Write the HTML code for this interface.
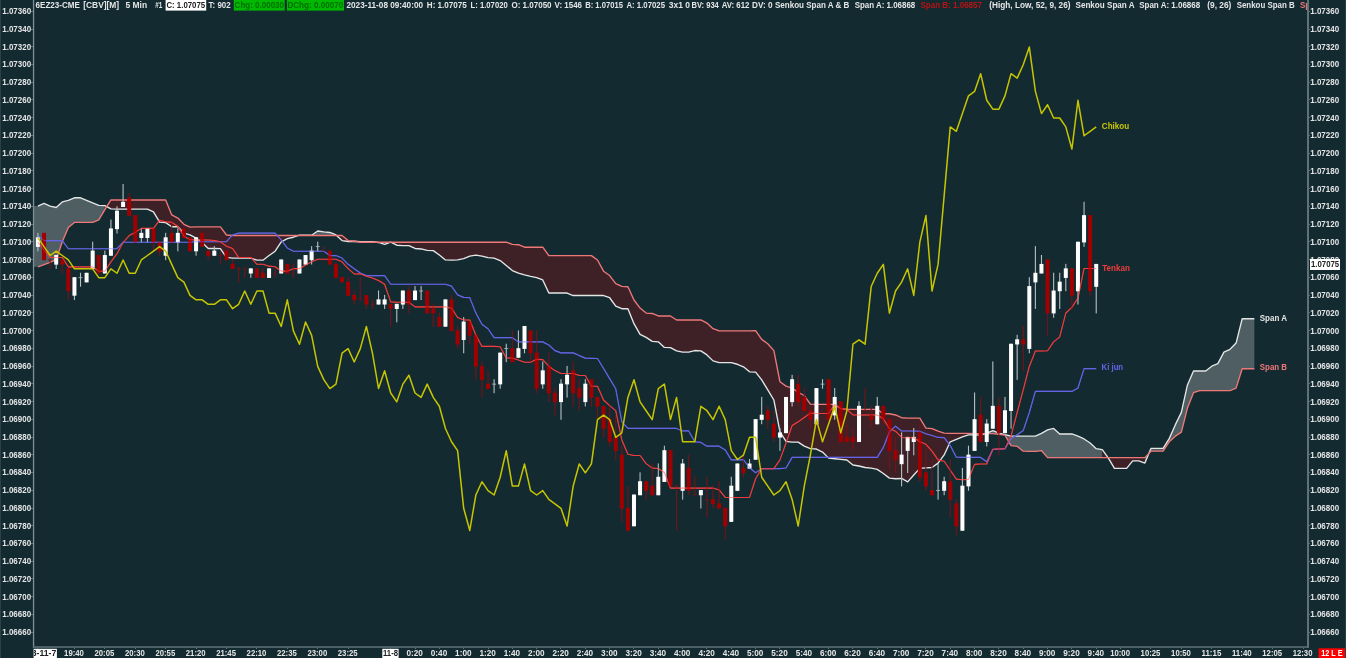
<!DOCTYPE html>
<html><head><meta charset="utf-8"><title>6EZ23-CME 5 Min</title>
<style>html,body{margin:0;padding:0;background:#142a31;overflow:hidden}svg{display:block}</style></head>
<body>
<svg width="1346" height="658" viewBox="0 0 1346 658" font-family='"Liberation Sans", "DejaVu Sans", sans-serif' font-size="8.5" font-weight="bold">
<rect width="1346" height="658" fill="#142a31"/>
<clipPath id="plot"><rect x="34" y="0" width="1273" height="646"/></clipPath>
<g clip-path="url(#plot)">
<path d="M33.50,206.02 L37.94,206.02 L44.03,203.40 L50.11,206.15 L56.19,207.52 L62.27,201.90 L68.35,200.28 L74.44,197.78 L80.52,197.78 L86.60,200.41 L92.68,202.90 L98.76,205.40 L104.85,205.65 L104.85,209.69 L98.76,219.93 L92.68,222.42 L86.60,222.42 L80.52,222.42 L74.44,222.42 L68.35,227.41 L62.27,241.77 L56.19,259.71 L50.11,262.46 L44.03,264.71 L37.94,266.83 L33.50,266.83 Z" fill="#4e5e63" fill-rule="nonzero"/>
<path d="M104.85,205.65 L110.93,208.94 L117.01,209.07 L123.09,209.07 L129.17,209.07 L135.26,209.07 L141.34,209.07 L147.42,209.07 L153.50,211.81 L159.58,222.17 L165.67,222.67 L171.75,226.79 L177.83,226.79 L183.91,233.03 L189.99,234.97 L196.08,238.09 L202.16,242.46 L208.24,248.45 L214.32,248.45 L220.40,248.70 L226.49,257.44 L232.57,258.06 L238.65,258.06 L244.73,258.06 L250.81,258.06 L256.90,260.18 L262.98,260.18 L269.06,255.56 L275.14,251.20 L281.22,241.83 L287.31,238.71 L293.39,237.22 L299.47,235.22 L299.47,235.47 L293.39,235.47 L287.31,235.47 L281.22,235.47 L275.14,235.47 L269.06,235.47 L262.98,235.47 L256.90,235.47 L250.81,235.47 L244.73,235.47 L238.65,235.47 L232.57,235.47 L226.49,234.97 L220.40,226.86 L214.32,226.86 L208.24,226.86 L202.16,226.86 L196.08,226.86 L189.99,227.16 L183.91,224.29 L177.83,218.05 L171.75,214.93 L165.67,199.96 L159.58,199.96 L153.50,199.96 L147.42,199.96 L141.34,199.96 L135.26,199.96 L129.17,199.96 L123.09,199.96 L117.01,199.96 L110.93,199.96 L104.85,209.69 Z" fill="#3e2126" fill-rule="nonzero"/>
<path d="M299.47,235.22 L305.55,235.22 L311.63,235.22 L317.72,230.98 L323.80,231.85 L329.88,232.47 L335.96,234.97 L335.96,235.47 L329.88,235.47 L323.80,235.47 L317.72,235.47 L311.63,235.47 L305.55,235.47 L299.47,235.47 Z" fill="#4e5e63" fill-rule="nonzero"/>
<path d="M335.96,234.97 L342.04,240.59 L348.13,241.46 L354.21,241.23 L354.21,241.23 L348.13,240.59 L342.04,235.47 L335.96,235.47 Z" fill="#3e2126" fill-rule="nonzero"/>
<path d="M354.21,241.23 L360.29,241.60 L366.37,241.60 L372.45,241.60 L378.54,242.47 L378.54,242.22 L372.45,242.22 L366.37,242.22 L360.29,242.22 L354.21,241.23 Z" fill="#4e5e63" fill-rule="nonzero"/>
<path d="M378.54,242.47 L384.62,244.35 L390.70,242.22 L396.78,245.22 L402.86,245.59 L408.95,245.59 L415.03,248.46 L421.11,248.96 L427.19,250.34 L433.27,250.59 L439.36,254.96 L445.44,259.95 L451.52,260.20 L457.60,259.95 L463.68,258.70 L469.77,256.20 L475.85,255.20 L481.93,256.20 L488.01,257.70 L494.09,258.08 L500.18,260.57 L506.26,265.56 L512.34,270.56 L518.42,273.05 L524.50,274.93 L530.59,276.42 L536.67,277.67 L542.75,279.92 L548.83,293.02 L554.91,293.02 L561.00,293.02 L567.08,293.02 L573.16,295.52 L579.24,295.52 L585.32,295.52 L591.41,295.52 L597.49,295.52 L603.57,295.52 L609.65,297.74 L615.73,306.23 L621.82,308.72 L627.90,308.72 L633.98,323.70 L640.06,334.31 L646.14,337.43 L652.23,341.42 L658.31,341.80 L664.39,347.41 L670.47,347.66 L676.55,350.91 L682.64,352.16 L688.72,352.16 L694.80,350.53 L700.88,350.91 L706.96,354.90 L713.05,360.89 L719.13,362.64 L725.21,362.64 L731.29,362.64 L737.37,364.26 L743.46,366.81 L749.54,371.80 L755.62,372.18 L761.70,379.92 L767.78,389.90 L773.87,399.99 L779.95,431.82 L786.03,441.43 L792.11,442.18 L798.19,442.18 L804.28,446.17 L810.36,448.67 L816.44,449.04 L822.52,452.04 L828.60,458.12 L834.69,458.74 L840.77,459.37 L846.85,459.99 L852.93,464.99 L859.01,465.98 L865.10,467.48 L871.18,468.11 L877.26,469.35 L883.34,473.47 L889.42,478.09 L895.51,478.71 L901.59,478.46 L907.67,481.83 L913.75,474.97 L919.83,468.35 L925.92,467.86 L932.00,467.48 L938.08,463.11 L944.16,454.91 L950.24,441.80 L956.33,439.31 L962.41,436.81 L968.49,434.94 L974.57,434.94 L980.65,435.19 L980.65,433.69 L974.57,433.69 L968.49,433.44 L962.41,433.44 L956.33,433.44 L950.24,433.44 L944.16,433.07 L938.08,431.20 L932.00,428.70 L925.92,428.08 L919.83,418.09 L913.75,418.09 L907.67,418.09 L901.59,417.72 L895.51,414.97 L889.42,413.72 L883.34,413.72 L877.26,409.35 L871.18,409.35 L865.10,409.35 L859.01,409.35 L852.93,409.35 L846.85,409.35 L840.77,408.73 L834.69,404.36 L828.60,404.36 L822.52,404.36 L816.44,404.36 L810.36,404.11 L804.28,395.52 L798.19,392.40 L792.11,388.03 L786.03,386.16 L779.95,381.79 L773.87,350.59 L767.78,343.72 L761.70,339.35 L755.62,330.62 L749.54,330.94 L743.46,330.94 L737.37,330.94 L731.29,330.94 L725.21,330.94 L719.13,330.94 L713.05,328.69 L706.96,323.08 L700.88,319.96 L694.80,319.96 L688.72,319.96 L682.64,319.96 L676.55,319.96 L670.47,315.96 L664.39,315.96 L658.31,315.96 L652.23,313.46 L646.14,313.09 L640.06,308.10 L633.98,299.99 L627.90,286.78 L621.82,286.41 L615.73,283.66 L609.65,275.55 L603.57,271.18 L597.49,259.95 L591.41,255.58 L585.32,255.58 L579.24,255.58 L573.16,255.58 L567.08,255.58 L561.00,255.58 L554.91,255.58 L548.83,255.58 L542.75,247.22 L536.67,247.22 L530.59,247.22 L524.50,247.22 L518.42,244.72 L512.34,244.35 L506.26,242.22 L500.18,242.22 L494.09,242.22 L488.01,242.22 L481.93,242.22 L475.85,242.22 L469.77,242.22 L463.68,242.22 L457.60,242.22 L451.52,242.22 L445.44,242.22 L439.36,242.22 L433.27,242.22 L427.19,242.22 L421.11,242.22 L415.03,242.22 L408.95,242.22 L402.86,242.22 L396.78,242.22 L390.70,242.22 L384.62,242.22 L378.54,242.22 Z" fill="#3e2126" fill-rule="nonzero"/>
<path d="M980.65,435.19 L986.74,433.07 L992.82,430.57 L998.90,433.07 L1004.98,434.69 L1011.06,436.19 L1017.15,436.19 L1023.23,436.19 L1029.31,436.19 L1035.39,436.19 L1041.47,433.45 L1047.56,429.96 L1053.64,428.46 L1059.72,433.95 L1065.80,433.95 L1071.88,433.95 L1077.97,436.20 L1084.05,438.94 L1090.13,443.06 L1096.21,448.68 L1102.29,449.68 L1102.29,457.66 L1096.21,457.66 L1090.13,457.66 L1084.05,457.66 L1077.97,457.66 L1071.88,457.66 L1065.80,457.66 L1059.72,457.66 L1053.64,457.66 L1047.56,457.66 L1041.47,450.55 L1035.39,451.42 L1029.31,451.42 L1023.23,451.17 L1017.15,446.30 L1011.06,445.55 L1004.98,435.06 L998.90,434.44 L992.82,433.69 L986.74,433.69 L980.65,433.69 Z" fill="#4e5e63" fill-rule="nonzero"/>
<path d="M1102.29,449.68 L1108.38,458.04 L1114.46,468.40 L1120.54,468.40 L1126.62,468.40 L1132.70,460.91 L1138.79,460.91 L1144.87,463.03 L1144.87,457.66 L1138.79,457.66 L1132.70,457.66 L1126.62,457.66 L1120.54,457.66 L1114.46,457.66 L1108.38,457.66 L1102.29,457.66 Z" fill="#3e2126" fill-rule="nonzero"/>
<path d="M1144.87,463.03 L1150.95,448.43 L1157.03,448.43 L1163.11,448.43 L1169.20,438.63 L1175.28,424.90 L1181.36,412.42 L1187.44,384.96 L1193.52,370.98 L1199.61,370.98 L1205.69,370.98 L1211.77,366.16 L1217.85,363.66 L1223.93,352.18 L1230.02,349.31 L1236.10,343.07 L1242.18,318.73 L1248.26,318.73 L1254.34,318.73 L1254.34,368.74 L1248.26,368.74 L1242.18,368.74 L1236.10,388.08 L1230.02,390.58 L1223.93,390.58 L1217.85,390.58 L1211.77,390.58 L1205.69,390.58 L1199.61,390.58 L1193.52,392.70 L1187.44,408.05 L1181.36,432.14 L1175.28,436.14 L1169.20,441.81 L1163.11,451.17 L1157.03,451.17 L1150.95,451.17 L1144.87,457.66 Z" fill="#4e5e63" fill-rule="nonzero"/>
<path d="M37.94,206.02 L44.03,203.40 L50.11,206.15 L56.19,207.52 L62.27,201.90 L68.35,200.28 L74.44,197.78 L80.52,197.78 L86.60,200.41 L92.68,202.90 L98.76,205.40 L104.85,205.65 L110.93,208.94 L117.01,209.07 L123.09,209.07 L129.17,209.07 L135.26,209.07 L141.34,209.07 L147.42,209.07 L153.50,211.81 L159.58,222.17 L165.67,222.67 L171.75,226.79 L177.83,226.79 L183.91,233.03 L189.99,234.97 L196.08,238.09 L202.16,242.46 L208.24,248.45 L214.32,248.45 L220.40,248.70 L226.49,257.44 L232.57,258.06 L238.65,258.06 L244.73,258.06 L250.81,258.06 L256.90,260.18 L262.98,260.18 L269.06,255.56 L275.14,251.20 L281.22,241.83 L287.31,238.71 L293.39,237.22 L299.47,235.22 L305.55,235.22 L311.63,235.22 L317.72,230.98 L323.80,231.85 L329.88,232.47 L335.96,234.97 L342.04,240.59 L348.13,241.46 L354.21,241.23 L360.29,241.60 L366.37,241.60 L372.45,241.60 L378.54,242.47 L384.62,244.35 L390.70,242.22 L396.78,245.22 L402.86,245.59 L408.95,245.59 L415.03,248.46 L421.11,248.96 L427.19,250.34 L433.27,250.59 L439.36,254.96 L445.44,259.95 L451.52,260.20 L457.60,259.95 L463.68,258.70 L469.77,256.20 L475.85,255.20 L481.93,256.20 L488.01,257.70 L494.09,258.08 L500.18,260.57 L506.26,265.56 L512.34,270.56 L518.42,273.05 L524.50,274.93 L530.59,276.42 L536.67,277.67 L542.75,279.92 L548.83,293.02 L554.91,293.02 L561.00,293.02 L567.08,293.02 L573.16,295.52 L579.24,295.52 L585.32,295.52 L591.41,295.52 L597.49,295.52 L603.57,295.52 L609.65,297.74 L615.73,306.23 L621.82,308.72 L627.90,308.72 L633.98,323.70 L640.06,334.31 L646.14,337.43 L652.23,341.42 L658.31,341.80 L664.39,347.41 L670.47,347.66 L676.55,350.91 L682.64,352.16 L688.72,352.16 L694.80,350.53 L700.88,350.91 L706.96,354.90 L713.05,360.89 L719.13,362.64 L725.21,362.64 L731.29,362.64 L737.37,364.26 L743.46,366.81 L749.54,371.80 L755.62,372.18 L761.70,379.92 L767.78,389.90 L773.87,399.99 L779.95,431.82 L786.03,441.43 L792.11,442.18 L798.19,442.18 L804.28,446.17 L810.36,448.67 L816.44,449.04 L822.52,452.04 L828.60,458.12 L834.69,458.74 L840.77,459.37 L846.85,459.99 L852.93,464.99 L859.01,465.98 L865.10,467.48 L871.18,468.11 L877.26,469.35 L883.34,473.47 L889.42,478.09 L895.51,478.71 L901.59,478.46 L907.67,481.83 L913.75,474.97 L919.83,468.35 L925.92,467.86 L932.00,467.48 L938.08,463.11 L944.16,454.91 L950.24,441.80 L956.33,439.31 L962.41,436.81 L968.49,434.94 L974.57,434.94 L980.65,435.19 L986.74,433.07 L992.82,430.57 L998.90,433.07 L1004.98,434.69 L1011.06,436.19 L1017.15,436.19 L1023.23,436.19 L1029.31,436.19 L1035.39,436.19 L1041.47,433.45 L1047.56,429.96 L1053.64,428.46 L1059.72,433.95 L1065.80,433.95 L1071.88,433.95 L1077.97,436.20 L1084.05,438.94 L1090.13,443.06 L1096.21,448.68 L1102.29,449.68 L1108.38,458.04 L1114.46,468.40 L1120.54,468.40 L1126.62,468.40 L1132.70,460.91 L1138.79,460.91 L1144.87,463.03 L1150.95,448.43 L1157.03,448.43 L1163.11,448.43 L1169.20,438.63 L1175.28,424.90 L1181.36,412.42 L1187.44,384.96 L1193.52,370.98 L1199.61,370.98 L1205.69,370.98 L1211.77,366.16 L1217.85,363.66 L1223.93,352.18 L1230.02,349.31 L1236.10,343.07 L1242.18,318.73 L1248.26,318.73 L1254.34,318.73" fill="none" stroke="#e4e6e6" stroke-width="1.35" stroke-linejoin="round"/>
<path d="M37.94,266.83 L44.03,264.71 L50.11,262.46 L56.19,259.71 L62.27,241.77 L68.35,227.41 L74.44,222.42 L80.52,222.42 L86.60,222.42 L92.68,222.42 L98.76,219.93 L104.85,209.69 L110.93,199.96 L117.01,199.96 L123.09,199.96 L129.17,199.96 L135.26,199.96 L141.34,199.96 L147.42,199.96 L153.50,199.96 L159.58,199.96 L165.67,199.96 L171.75,214.93 L177.83,218.05 L183.91,224.29 L189.99,227.16 L196.08,226.86 L202.16,226.86 L208.24,226.86 L214.32,226.86 L220.40,226.86 L226.49,234.97 L232.57,235.47 L238.65,235.47 L244.73,235.47 L250.81,235.47 L256.90,235.47 L262.98,235.47 L269.06,235.47 L275.14,235.47 L281.22,235.47 L287.31,235.47 L293.39,235.47 L299.47,235.47 L305.55,235.47 L311.63,235.47 L317.72,235.47 L323.80,235.47 L329.88,235.47 L335.96,235.47 L342.04,235.47 L348.13,240.59 L354.21,241.23 L360.29,242.22 L366.37,242.22 L372.45,242.22 L378.54,242.22 L384.62,242.22 L390.70,242.22 L396.78,242.22 L402.86,242.22 L408.95,242.22 L415.03,242.22 L421.11,242.22 L427.19,242.22 L433.27,242.22 L439.36,242.22 L445.44,242.22 L451.52,242.22 L457.60,242.22 L463.68,242.22 L469.77,242.22 L475.85,242.22 L481.93,242.22 L488.01,242.22 L494.09,242.22 L500.18,242.22 L506.26,242.22 L512.34,244.35 L518.42,244.72 L524.50,247.22 L530.59,247.22 L536.67,247.22 L542.75,247.22 L548.83,255.58 L554.91,255.58 L561.00,255.58 L567.08,255.58 L573.16,255.58 L579.24,255.58 L585.32,255.58 L591.41,255.58 L597.49,259.95 L603.57,271.18 L609.65,275.55 L615.73,283.66 L621.82,286.41 L627.90,286.78 L633.98,299.99 L640.06,308.10 L646.14,313.09 L652.23,313.46 L658.31,315.96 L664.39,315.96 L670.47,315.96 L676.55,319.96 L682.64,319.96 L688.72,319.96 L694.80,319.96 L700.88,319.96 L706.96,323.08 L713.05,328.69 L719.13,330.94 L725.21,330.94 L731.29,330.94 L737.37,330.94 L743.46,330.94 L749.54,330.94 L755.62,330.62 L761.70,339.35 L767.78,343.72 L773.87,350.59 L779.95,381.79 L786.03,386.16 L792.11,388.03 L798.19,392.40 L804.28,395.52 L810.36,404.11 L816.44,404.36 L822.52,404.36 L828.60,404.36 L834.69,404.36 L840.77,408.73 L846.85,409.35 L852.93,409.35 L859.01,409.35 L865.10,409.35 L871.18,409.35 L877.26,409.35 L883.34,413.72 L889.42,413.72 L895.51,414.97 L901.59,417.72 L907.67,418.09 L913.75,418.09 L919.83,418.09 L925.92,428.08 L932.00,428.70 L938.08,431.20 L944.16,433.07 L950.24,433.44 L956.33,433.44 L962.41,433.44 L968.49,433.44 L974.57,433.69 L980.65,433.69 L986.74,433.69 L992.82,433.69 L998.90,434.44 L1004.98,435.06 L1011.06,445.55 L1017.15,446.30 L1023.23,451.17 L1029.31,451.42 L1035.39,451.42 L1041.47,450.55 L1047.56,457.66 L1053.64,457.66 L1059.72,457.66 L1065.80,457.66 L1071.88,457.66 L1077.97,457.66 L1084.05,457.66 L1090.13,457.66 L1096.21,457.66 L1102.29,457.66 L1108.38,457.66 L1114.46,457.66 L1120.54,457.66 L1126.62,457.66 L1132.70,457.66 L1138.79,457.66 L1144.87,457.66 L1150.95,451.17 L1157.03,451.17 L1163.11,451.17 L1169.20,441.81 L1175.28,436.14 L1181.36,432.14 L1187.44,408.05 L1193.52,392.70 L1199.61,390.58 L1205.69,390.58 L1211.77,390.58 L1217.85,390.58 L1223.93,390.58 L1230.02,390.58 L1236.10,388.08 L1242.18,368.74 L1248.26,368.74 L1254.34,368.74" fill="none" stroke="#ee7878" stroke-width="1.35" stroke-linejoin="round"/>
<path d="M37.94,235.62 L44.03,240.62 L50.11,240.62 L56.19,240.62 L62.27,240.62 L68.35,248.73 L74.44,248.73 L80.52,248.73 L86.60,248.73 L92.68,248.73 L98.76,248.73 L104.85,248.73 L110.93,248.73 L117.01,248.73 L123.09,242.24 L129.17,242.24 L135.26,242.24 L141.34,242.24 L147.42,242.24 L153.50,242.24 L159.58,242.24 L165.67,242.24 L171.75,242.24 L177.83,242.24 L183.91,242.24 L189.99,242.24 L196.08,241.71 L202.16,241.71 L208.24,241.71 L214.32,241.71 L220.40,241.71 L226.49,241.71 L232.57,234.97 L238.65,233.10 L244.73,233.10 L250.81,233.10 L256.90,233.10 L262.98,233.10 L269.06,233.10 L275.14,233.10 L281.22,239.96 L287.31,248.08 L293.39,251.20 L299.47,251.20 L305.55,251.20 L311.63,251.20 L317.72,251.20 L323.80,251.20 L329.88,255.56 L335.96,255.56 L342.04,258.06 L348.13,264.30 L354.21,268.68 L360.29,273.05 L366.37,275.55 L372.45,275.55 L378.54,275.55 L384.62,275.55 L390.70,284.29 L396.78,284.29 L402.86,284.29 L408.95,284.29 L415.03,284.29 L421.11,284.29 L427.19,284.29 L433.27,284.29 L439.36,284.29 L445.44,284.29 L451.52,286.16 L457.60,294.90 L463.68,297.39 L469.77,297.64 L475.85,313.10 L481.93,324.33 L488.01,328.70 L494.09,337.69 L500.18,337.69 L506.26,337.69 L512.34,337.69 L518.42,341.87 L524.50,341.87 L530.59,341.87 L536.67,341.87 L542.75,341.87 L548.83,344.99 L554.91,350.61 L561.00,352.86 L567.08,352.86 L573.16,352.86 L579.24,355.60 L585.32,358.10 L591.41,358.35 L597.49,358.47 L603.57,368.56 L609.65,378.65 L615.73,388.74 L621.82,421.82 L627.90,428.43 L633.98,428.43 L640.06,428.43 L646.14,428.43 L652.23,428.43 L658.31,428.43 L664.39,428.43 L670.47,428.43 L676.55,428.43 L682.64,430.93 L688.72,430.93 L694.80,441.79 L700.88,442.41 L706.96,446.16 L713.05,446.16 L719.13,446.16 L725.21,449.90 L731.29,459.89 L737.37,459.89 L743.46,459.65 L749.54,467.77 L755.62,472.76 L761.70,468.64 L767.78,468.64 L773.87,468.64 L779.95,468.64 L786.03,468.02 L792.11,457.41 L798.19,457.41 L804.28,457.41 L810.36,457.41 L816.44,457.41 L822.52,457.41 L828.60,457.41 L834.69,457.41 L840.77,457.41 L846.85,457.41 L852.93,457.41 L859.01,457.41 L865.10,457.41 L871.18,457.41 L877.26,457.41 L883.34,447.42 L889.42,431.82 L895.51,426.20 L901.59,430.95 L907.67,430.95 L913.75,430.95 L919.83,431.20 L925.92,433.69 L932.00,435.56 L938.08,437.44 L944.16,437.69 L950.24,445.55 L956.33,457.16 L962.41,457.41 L968.49,457.41 L974.57,457.41 L980.65,457.41 L986.74,461.77 L992.82,449.54 L998.90,449.17 L1004.98,448.79 L1011.06,438.68 L1017.15,434.69 L1023.23,430.57 L1029.31,412.49 L1035.39,391.39 L1041.47,391.39 L1047.56,391.39 L1053.64,391.39 L1059.72,391.39 L1065.80,391.39 L1071.88,391.39 L1077.97,388.02 L1084.05,368.68 L1090.13,368.68 L1096.21,368.68" fill="none" stroke="#6464e6" stroke-width="1.15" stroke-linejoin="round"/>
<path d="M37.94,242.24 L44.03,249.98 L50.11,257.47 L56.19,257.47 L62.27,257.47 L68.35,266.83 L74.44,266.83 L80.52,266.83 L86.60,266.83 L92.68,266.83 L98.76,271.20 L104.85,271.20 L110.93,261.83 L117.01,253.72 L123.09,242.49 L129.17,235.53 L135.26,232.41 L141.34,228.41 L147.42,228.41 L153.50,228.41 L159.58,220.17 L165.67,221.80 L171.75,222.42 L177.83,226.17 L183.91,236.15 L189.99,239.65 L196.08,239.96 L202.16,239.96 L208.24,239.96 L214.32,240.59 L220.40,241.83 L226.49,246.20 L232.57,248.45 L238.65,257.44 L244.73,257.44 L250.81,257.44 L256.90,264.30 L262.98,264.30 L269.06,266.17 L275.14,266.80 L281.22,271.17 L287.31,271.17 L293.39,268.67 L299.47,268.67 L305.55,264.93 L311.63,261.80 L317.72,259.31 L323.80,259.31 L329.88,259.31 L335.96,259.31 L342.04,261.80 L348.13,268.67 L354.21,273.93 L360.29,273.68 L366.37,276.17 L372.45,278.05 L378.54,280.54 L384.62,284.29 L390.70,301.86 L396.78,302.24 L402.86,302.24 L408.95,302.24 L415.03,306.86 L421.11,306.86 L427.19,306.86 L433.27,306.86 L439.36,306.86 L445.44,306.86 L451.52,308.11 L457.60,317.47 L463.68,319.96 L469.77,319.96 L475.85,334.94 L481.93,346.42 L488.01,346.42 L494.09,346.42 L500.18,346.80 L506.26,358.03 L512.34,358.03 L518.42,359.97 L524.50,362.22 L530.59,362.22 L536.67,359.35 L542.75,359.60 L548.83,366.21 L554.91,370.58 L561.00,373.45 L567.08,373.45 L573.16,373.45 L579.24,375.57 L585.32,375.57 L591.41,386.25 L597.49,386.25 L603.57,399.98 L609.65,405.59 L615.73,410.59 L621.82,439.92 L627.90,454.27 L633.98,455.52 L640.06,455.52 L646.14,463.63 L652.23,468.11 L658.31,468.48 L664.39,472.47 L670.47,488.08 L676.55,488.08 L682.64,488.08 L688.72,488.08 L694.80,488.08 L700.88,488.08 L706.96,488.08 L713.05,488.08 L719.13,489.95 L725.21,497.44 L731.29,497.44 L737.37,497.44 L743.46,497.44 L749.54,497.44 L755.62,478.71 L761.70,468.64 L767.78,468.64 L773.87,468.64 L779.95,459.90 L786.03,443.05 L792.11,425.58 L798.19,421.83 L804.28,417.47 L810.36,413.10 L816.44,413.47 L822.52,413.47 L828.60,413.47 L834.69,404.36 L840.77,408.73 L846.85,409.35 L852.93,414.97 L859.01,414.97 L865.10,414.97 L871.18,414.97 L877.26,414.97 L883.34,418.71 L889.42,428.70 L895.51,431.20 L901.59,437.44 L907.67,437.69 L913.75,437.69 L919.83,441.80 L925.92,444.30 L932.00,451.17 L938.08,459.90 L944.16,461.24 L950.24,470.23 L956.33,479.09 L962.41,479.71 L968.49,479.34 L974.57,464.36 L980.65,463.99 L986.74,463.99 L992.82,449.29 L998.90,448.92 L1004.98,448.67 L1011.06,436.19 L1017.15,412.49 L1023.23,389.90 L1029.31,366.43 L1035.39,350.95 L1041.47,350.95 L1047.56,350.70 L1053.64,341.84 L1059.72,336.85 L1065.80,313.02 L1071.88,307.41 L1077.97,298.05 L1084.05,268.46 L1090.13,268.46 L1096.21,268.46" fill="none" stroke="#f03c3c" stroke-width="1.1" stroke-linejoin="round"/>
<g>
<rect x="37.39" y="232.83" width="1.1" height="18.44" fill="#b4c0c4"/>
<rect x="35.94" y="237.31" width="4" height="9.57" fill="#ffffff"/>
<rect x="43.48" y="232.83" width="1.1" height="27.31" fill="#741418"/>
<rect x="42.03" y="232.88" width="4" height="27.31" fill="#a20000"/>
<rect x="49.56" y="258.55" width="1.1" height="10.46" fill="#741418"/>
<rect x="48.11" y="259.54" width="4" height="0.8" fill="#741418"/>
<rect x="55.64" y="255.00" width="1.1" height="14.00" fill="#b4c0c4"/>
<rect x="54.19" y="255.06" width="4" height="9.57" fill="#ffffff"/>
<rect x="61.72" y="259.44" width="1.1" height="14.00" fill="#741418"/>
<rect x="60.27" y="259.49" width="4" height="5.13" fill="#a20000"/>
<rect x="67.80" y="268.31" width="1.1" height="31.74" fill="#741418"/>
<rect x="66.35" y="268.36" width="4" height="22.88" fill="#a20000"/>
<rect x="73.89" y="277.18" width="1.1" height="22.87" fill="#b4c0c4"/>
<rect x="72.44" y="277.23" width="4" height="18.44" fill="#ffffff"/>
<rect x="79.97" y="272.75" width="1.1" height="14.00" fill="#b4c0c4"/>
<rect x="78.52" y="277.28" width="4" height="0.8" fill="#b4c0c4"/>
<rect x="86.05" y="272.75" width="1.1" height="9.57" fill="#b4c0c4"/>
<rect x="84.60" y="272.80" width="4" height="9.57" fill="#ffffff"/>
<rect x="92.13" y="241.70" width="1.1" height="27.31" fill="#b4c0c4"/>
<rect x="90.68" y="250.62" width="4" height="18.44" fill="#ffffff"/>
<rect x="98.21" y="255.00" width="1.1" height="18.44" fill="#741418"/>
<rect x="96.76" y="255.06" width="4" height="18.44" fill="#a20000"/>
<rect x="104.30" y="250.57" width="1.1" height="22.88" fill="#b4c0c4"/>
<rect x="102.85" y="255.06" width="4" height="18.44" fill="#ffffff"/>
<rect x="110.38" y="219.52" width="1.1" height="36.18" fill="#b4c0c4"/>
<rect x="108.93" y="228.44" width="4" height="27.31" fill="#ffffff"/>
<rect x="116.46" y="206.22" width="1.1" height="27.31" fill="#b4c0c4"/>
<rect x="115.01" y="210.71" width="4" height="18.44" fill="#ffffff"/>
<rect x="122.54" y="184.04" width="1.1" height="22.88" fill="#b4c0c4"/>
<rect x="121.09" y="201.84" width="4" height="5.13" fill="#ffffff"/>
<rect x="128.62" y="192.91" width="1.1" height="22.87" fill="#741418"/>
<rect x="127.17" y="197.40" width="4" height="18.44" fill="#a20000"/>
<rect x="134.71" y="215.09" width="1.1" height="27.31" fill="#741418"/>
<rect x="133.26" y="215.14" width="4" height="27.31" fill="#a20000"/>
<rect x="140.79" y="228.39" width="1.1" height="14.00" fill="#b4c0c4"/>
<rect x="139.34" y="232.88" width="4" height="5.13" fill="#ffffff"/>
<rect x="146.87" y="228.39" width="1.1" height="14.00" fill="#b4c0c4"/>
<rect x="145.42" y="228.44" width="4" height="9.57" fill="#ffffff"/>
<rect x="152.95" y="228.39" width="1.1" height="22.88" fill="#741418"/>
<rect x="151.50" y="228.44" width="4" height="14.00" fill="#a20000"/>
<rect x="159.03" y="241.70" width="1.1" height="14.00" fill="#741418"/>
<rect x="157.58" y="241.75" width="4" height="9.57" fill="#a20000"/>
<rect x="165.12" y="232.83" width="1.1" height="27.31" fill="#b4c0c4"/>
<rect x="163.67" y="237.31" width="4" height="18.44" fill="#ffffff"/>
<rect x="171.20" y="219.52" width="1.1" height="22.88" fill="#741418"/>
<rect x="169.75" y="232.88" width="4" height="9.57" fill="#a20000"/>
<rect x="177.28" y="228.39" width="1.1" height="22.88" fill="#b4c0c4"/>
<rect x="175.83" y="232.88" width="4" height="9.57" fill="#ffffff"/>
<rect x="183.36" y="228.39" width="1.1" height="9.57" fill="#741418"/>
<rect x="181.91" y="228.44" width="4" height="9.57" fill="#a20000"/>
<rect x="189.44" y="237.26" width="1.1" height="14.00" fill="#741418"/>
<rect x="187.99" y="237.31" width="4" height="14.00" fill="#a20000"/>
<rect x="195.53" y="237.26" width="1.1" height="18.44" fill="#b4c0c4"/>
<rect x="194.08" y="237.31" width="4" height="14.00" fill="#ffffff"/>
<rect x="201.61" y="232.83" width="1.1" height="14.00" fill="#741418"/>
<rect x="200.16" y="232.88" width="4" height="14.00" fill="#a20000"/>
<rect x="207.69" y="250.57" width="1.1" height="9.57" fill="#741418"/>
<rect x="206.24" y="250.62" width="4" height="5.13" fill="#a20000"/>
<rect x="213.77" y="246.13" width="1.1" height="9.57" fill="#b4c0c4"/>
<rect x="212.32" y="250.62" width="4" height="5.13" fill="#ffffff"/>
<rect x="219.85" y="250.57" width="1.1" height="14.00" fill="#741418"/>
<rect x="218.40" y="255.10" width="4" height="0.8" fill="#741418"/>
<rect x="225.94" y="250.57" width="1.1" height="9.57" fill="#741418"/>
<rect x="224.49" y="250.62" width="4" height="9.57" fill="#a20000"/>
<rect x="232.02" y="259.44" width="1.1" height="9.57" fill="#741418"/>
<rect x="230.57" y="263.93" width="4" height="5.13" fill="#a20000"/>
<rect x="238.10" y="267.42" width="1.1" height="14.89" fill="#741418"/>
<rect x="236.65" y="268.41" width="4" height="0.8" fill="#741418"/>
<rect x="244.18" y="267.42" width="1.1" height="10.46" fill="#741418"/>
<rect x="242.73" y="268.41" width="4" height="0.8" fill="#741418"/>
<rect x="250.26" y="268.31" width="1.1" height="9.57" fill="#b4c0c4"/>
<rect x="248.81" y="268.36" width="4" height="5.13" fill="#ffffff"/>
<rect x="256.35" y="268.31" width="1.1" height="9.57" fill="#741418"/>
<rect x="254.90" y="268.36" width="4" height="9.57" fill="#a20000"/>
<rect x="262.43" y="268.31" width="1.1" height="9.57" fill="#741418"/>
<rect x="260.98" y="272.80" width="4" height="5.13" fill="#a20000"/>
<rect x="268.51" y="268.31" width="1.1" height="9.57" fill="#b4c0c4"/>
<rect x="267.06" y="268.36" width="4" height="9.57" fill="#ffffff"/>
<rect x="274.59" y="268.31" width="1.1" height="9.57" fill="#741418"/>
<rect x="273.14" y="272.85" width="4" height="0.8" fill="#741418"/>
<rect x="280.67" y="259.44" width="1.1" height="14.00" fill="#b4c0c4"/>
<rect x="279.22" y="259.49" width="4" height="14.00" fill="#ffffff"/>
<rect x="286.76" y="263.88" width="1.1" height="9.57" fill="#741418"/>
<rect x="285.31" y="263.93" width="4" height="9.57" fill="#a20000"/>
<rect x="292.84" y="263.88" width="1.1" height="14.00" fill="#741418"/>
<rect x="291.39" y="272.85" width="4" height="0.8" fill="#741418"/>
<rect x="298.92" y="259.44" width="1.1" height="14.00" fill="#b4c0c4"/>
<rect x="297.47" y="259.49" width="4" height="14.00" fill="#ffffff"/>
<rect x="305.00" y="255.00" width="1.1" height="9.57" fill="#b4c0c4"/>
<rect x="303.55" y="255.06" width="4" height="9.57" fill="#ffffff"/>
<rect x="311.08" y="246.13" width="1.1" height="18.44" fill="#b4c0c4"/>
<rect x="309.63" y="250.62" width="4" height="9.57" fill="#ffffff"/>
<rect x="317.17" y="241.70" width="1.1" height="9.57" fill="#b4c0c4"/>
<rect x="315.72" y="246.23" width="4" height="0.8" fill="#b4c0c4"/>
<rect x="323.25" y="246.13" width="1.1" height="5.13" fill="#741418"/>
<rect x="321.80" y="250.67" width="4" height="0.8" fill="#741418"/>
<rect x="329.33" y="250.57" width="1.1" height="14.00" fill="#741418"/>
<rect x="327.88" y="250.62" width="4" height="14.00" fill="#a20000"/>
<rect x="335.41" y="261.66" width="1.1" height="16.22" fill="#741418"/>
<rect x="333.96" y="263.93" width="4" height="14.00" fill="#a20000"/>
<rect x="341.49" y="277.18" width="1.1" height="5.13" fill="#741418"/>
<rect x="340.04" y="277.23" width="4" height="5.13" fill="#a20000"/>
<rect x="347.58" y="277.18" width="1.1" height="18.44" fill="#741418"/>
<rect x="346.13" y="281.67" width="4" height="14.00" fill="#a20000"/>
<rect x="353.66" y="290.49" width="1.1" height="14.00" fill="#741418"/>
<rect x="352.21" y="294.97" width="4" height="5.13" fill="#a20000"/>
<rect x="359.74" y="277.18" width="1.1" height="22.87" fill="#741418"/>
<rect x="358.29" y="299.45" width="4" height="0.8" fill="#741418"/>
<rect x="365.82" y="294.92" width="1.1" height="14.00" fill="#741418"/>
<rect x="364.37" y="294.97" width="4" height="9.57" fill="#a20000"/>
<rect x="371.90" y="299.35" width="1.1" height="9.57" fill="#741418"/>
<rect x="370.45" y="303.89" width="4" height="0.8" fill="#741418"/>
<rect x="377.99" y="290.49" width="1.1" height="14.00" fill="#b4c0c4"/>
<rect x="376.54" y="299.40" width="4" height="5.13" fill="#ffffff"/>
<rect x="384.07" y="294.92" width="1.1" height="14.00" fill="#b4c0c4"/>
<rect x="382.62" y="299.40" width="4" height="5.13" fill="#ffffff"/>
<rect x="390.15" y="303.79" width="1.1" height="22.88" fill="#741418"/>
<rect x="388.70" y="303.84" width="4" height="5.13" fill="#a20000"/>
<rect x="396.23" y="303.79" width="1.1" height="18.44" fill="#b4c0c4"/>
<rect x="394.78" y="303.84" width="4" height="5.13" fill="#ffffff"/>
<rect x="402.31" y="290.49" width="1.1" height="18.44" fill="#b4c0c4"/>
<rect x="400.86" y="290.54" width="4" height="14.00" fill="#ffffff"/>
<rect x="408.40" y="286.05" width="1.1" height="27.31" fill="#741418"/>
<rect x="406.95" y="290.54" width="4" height="14.00" fill="#a20000"/>
<rect x="414.48" y="286.05" width="1.1" height="14.00" fill="#b4c0c4"/>
<rect x="413.03" y="290.54" width="4" height="9.57" fill="#ffffff"/>
<rect x="420.56" y="286.05" width="1.1" height="14.00" fill="#b4c0c4"/>
<rect x="419.11" y="290.59" width="4" height="0.8" fill="#b4c0c4"/>
<rect x="426.64" y="290.49" width="1.1" height="22.87" fill="#741418"/>
<rect x="425.19" y="290.54" width="4" height="22.87" fill="#a20000"/>
<rect x="432.72" y="303.79" width="1.1" height="22.88" fill="#741418"/>
<rect x="431.27" y="308.27" width="4" height="5.13" fill="#a20000"/>
<rect x="438.81" y="312.66" width="1.1" height="14.00" fill="#741418"/>
<rect x="437.36" y="317.14" width="4" height="9.57" fill="#a20000"/>
<rect x="444.89" y="299.35" width="1.1" height="27.31" fill="#b4c0c4"/>
<rect x="443.44" y="299.40" width="4" height="27.31" fill="#ffffff"/>
<rect x="450.97" y="294.92" width="1.1" height="36.18" fill="#741418"/>
<rect x="449.52" y="299.40" width="4" height="31.75" fill="#a20000"/>
<rect x="457.05" y="325.96" width="1.1" height="22.88" fill="#741418"/>
<rect x="455.60" y="330.45" width="4" height="14.00" fill="#a20000"/>
<rect x="463.13" y="317.09" width="1.1" height="36.18" fill="#b4c0c4"/>
<rect x="461.68" y="321.58" width="4" height="18.44" fill="#ffffff"/>
<rect x="469.22" y="321.53" width="1.1" height="22.88" fill="#741418"/>
<rect x="467.77" y="321.58" width="4" height="14.00" fill="#a20000"/>
<rect x="475.30" y="334.83" width="1.1" height="45.05" fill="#741418"/>
<rect x="473.85" y="334.88" width="4" height="31.75" fill="#a20000"/>
<rect x="481.38" y="361.44" width="1.1" height="36.18" fill="#741418"/>
<rect x="479.93" y="365.93" width="4" height="14.00" fill="#a20000"/>
<rect x="487.46" y="370.31" width="1.1" height="18.44" fill="#741418"/>
<rect x="486.01" y="383.67" width="4" height="5.13" fill="#a20000"/>
<rect x="493.54" y="379.18" width="1.1" height="14.01" fill="#b4c0c4"/>
<rect x="492.09" y="383.72" width="4" height="0.8" fill="#b4c0c4"/>
<rect x="499.63" y="352.57" width="1.1" height="36.18" fill="#b4c0c4"/>
<rect x="498.18" y="352.62" width="4" height="31.75" fill="#ffffff"/>
<rect x="505.71" y="343.70" width="1.1" height="18.44" fill="#b4c0c4"/>
<rect x="504.26" y="348.24" width="4" height="0.8" fill="#b4c0c4"/>
<rect x="511.79" y="330.40" width="1.1" height="31.75" fill="#741418"/>
<rect x="510.34" y="348.19" width="4" height="14.00" fill="#a20000"/>
<rect x="517.87" y="330.40" width="1.1" height="27.31" fill="#b4c0c4"/>
<rect x="516.42" y="348.19" width="4" height="9.57" fill="#ffffff"/>
<rect x="523.95" y="325.96" width="1.1" height="27.31" fill="#b4c0c4"/>
<rect x="522.50" y="326.01" width="4" height="22.88" fill="#ffffff"/>
<rect x="530.04" y="330.40" width="1.1" height="31.75" fill="#741418"/>
<rect x="528.59" y="330.45" width="4" height="22.88" fill="#a20000"/>
<rect x="536.12" y="330.40" width="1.1" height="62.79" fill="#741418"/>
<rect x="534.67" y="352.62" width="4" height="36.18" fill="#a20000"/>
<rect x="542.20" y="361.44" width="1.1" height="27.31" fill="#b4c0c4"/>
<rect x="540.75" y="370.36" width="4" height="14.01" fill="#ffffff"/>
<rect x="548.28" y="352.57" width="1.1" height="49.49" fill="#741418"/>
<rect x="546.83" y="365.93" width="4" height="27.31" fill="#a20000"/>
<rect x="554.36" y="388.05" width="1.1" height="27.31" fill="#741418"/>
<rect x="552.91" y="392.54" width="4" height="9.57" fill="#a20000"/>
<rect x="560.45" y="379.18" width="1.1" height="40.62" fill="#b4c0c4"/>
<rect x="559.00" y="383.67" width="4" height="18.44" fill="#ffffff"/>
<rect x="566.53" y="365.88" width="1.1" height="31.74" fill="#b4c0c4"/>
<rect x="565.08" y="374.80" width="4" height="9.57" fill="#ffffff"/>
<rect x="572.61" y="361.44" width="1.1" height="45.05" fill="#741418"/>
<rect x="571.16" y="370.36" width="4" height="22.88" fill="#a20000"/>
<rect x="578.69" y="379.18" width="1.1" height="31.75" fill="#741418"/>
<rect x="577.24" y="388.10" width="4" height="9.57" fill="#a20000"/>
<rect x="584.77" y="379.18" width="1.1" height="27.31" fill="#b4c0c4"/>
<rect x="583.32" y="383.67" width="4" height="18.44" fill="#ffffff"/>
<rect x="590.86" y="379.18" width="1.1" height="27.31" fill="#741418"/>
<rect x="589.41" y="379.23" width="4" height="18.44" fill="#a20000"/>
<rect x="596.94" y="396.92" width="1.1" height="22.88" fill="#741418"/>
<rect x="595.49" y="396.97" width="4" height="9.57" fill="#a20000"/>
<rect x="603.02" y="405.79" width="1.1" height="31.75" fill="#741418"/>
<rect x="601.57" y="405.84" width="4" height="22.88" fill="#a20000"/>
<rect x="609.10" y="405.79" width="1.1" height="40.62" fill="#741418"/>
<rect x="607.65" y="419.15" width="4" height="22.88" fill="#a20000"/>
<rect x="615.18" y="414.66" width="1.1" height="45.05" fill="#741418"/>
<rect x="613.73" y="436.89" width="4" height="14.00" fill="#a20000"/>
<rect x="621.27" y="445.71" width="1.1" height="76.10" fill="#741418"/>
<rect x="619.82" y="454.63" width="4" height="53.92" fill="#a20000"/>
<rect x="627.35" y="485.62" width="1.1" height="45.05" fill="#741418"/>
<rect x="625.90" y="507.85" width="4" height="22.87" fill="#a20000"/>
<rect x="633.43" y="494.50" width="1.1" height="31.75" fill="#b4c0c4"/>
<rect x="631.98" y="494.55" width="4" height="31.74" fill="#ffffff"/>
<rect x="639.51" y="472.32" width="1.1" height="22.88" fill="#b4c0c4"/>
<rect x="638.06" y="481.24" width="4" height="14.01" fill="#ffffff"/>
<rect x="645.59" y="481.19" width="1.1" height="18.44" fill="#741418"/>
<rect x="644.14" y="481.24" width="4" height="9.57" fill="#a20000"/>
<rect x="651.68" y="463.45" width="1.1" height="31.75" fill="#741418"/>
<rect x="650.23" y="485.68" width="4" height="9.57" fill="#a20000"/>
<rect x="657.76" y="463.45" width="1.1" height="31.75" fill="#b4c0c4"/>
<rect x="656.31" y="476.81" width="4" height="18.44" fill="#ffffff"/>
<rect x="663.84" y="445.71" width="1.1" height="36.18" fill="#b4c0c4"/>
<rect x="662.39" y="450.19" width="4" height="31.74" fill="#ffffff"/>
<rect x="669.92" y="450.14" width="1.1" height="36.18" fill="#741418"/>
<rect x="668.47" y="450.19" width="4" height="36.18" fill="#a20000"/>
<rect x="676.00" y="484.74" width="1.1" height="45.94" fill="#741418"/>
<rect x="674.55" y="485.73" width="4" height="0.8" fill="#741418"/>
<rect x="682.09" y="459.01" width="1.1" height="40.61" fill="#b4c0c4"/>
<rect x="680.64" y="463.50" width="4" height="27.31" fill="#ffffff"/>
<rect x="688.17" y="454.58" width="1.1" height="40.62" fill="#741418"/>
<rect x="686.72" y="467.94" width="4" height="22.87" fill="#a20000"/>
<rect x="694.25" y="476.75" width="1.1" height="18.44" fill="#741418"/>
<rect x="692.80" y="494.60" width="4" height="0.8" fill="#741418"/>
<rect x="700.33" y="490.06" width="1.1" height="18.44" fill="#b4c0c4"/>
<rect x="698.88" y="490.11" width="4" height="5.14" fill="#ffffff"/>
<rect x="706.41" y="476.75" width="1.1" height="40.62" fill="#741418"/>
<rect x="704.96" y="499.03" width="4" height="0.8" fill="#741418"/>
<rect x="712.50" y="485.62" width="1.1" height="22.87" fill="#741418"/>
<rect x="711.05" y="498.98" width="4" height="5.13" fill="#a20000"/>
<rect x="718.58" y="481.19" width="1.1" height="27.31" fill="#741418"/>
<rect x="717.13" y="503.41" width="4" height="5.13" fill="#a20000"/>
<rect x="724.66" y="507.80" width="1.1" height="31.75" fill="#741418"/>
<rect x="723.21" y="507.85" width="4" height="18.44" fill="#a20000"/>
<rect x="730.74" y="476.75" width="1.1" height="45.05" fill="#b4c0c4"/>
<rect x="729.29" y="485.68" width="4" height="36.18" fill="#ffffff"/>
<rect x="736.82" y="463.45" width="1.1" height="27.31" fill="#b4c0c4"/>
<rect x="735.37" y="463.50" width="4" height="27.31" fill="#ffffff"/>
<rect x="742.91" y="454.58" width="1.1" height="22.88" fill="#741418"/>
<rect x="741.46" y="467.94" width="4" height="5.13" fill="#a20000"/>
<rect x="748.99" y="459.01" width="1.1" height="9.57" fill="#b4c0c4"/>
<rect x="747.54" y="463.50" width="4" height="5.14" fill="#ffffff"/>
<rect x="755.07" y="419.10" width="1.1" height="40.62" fill="#b4c0c4"/>
<rect x="753.62" y="419.15" width="4" height="40.62" fill="#ffffff"/>
<rect x="761.15" y="396.92" width="1.1" height="27.31" fill="#b4c0c4"/>
<rect x="759.70" y="414.71" width="4" height="5.13" fill="#ffffff"/>
<rect x="767.23" y="405.79" width="1.1" height="22.88" fill="#741418"/>
<rect x="765.78" y="410.28" width="4" height="9.57" fill="#a20000"/>
<rect x="773.32" y="410.23" width="1.1" height="31.75" fill="#741418"/>
<rect x="771.87" y="423.58" width="4" height="14.00" fill="#a20000"/>
<rect x="779.40" y="427.97" width="1.1" height="22.88" fill="#b4c0c4"/>
<rect x="777.95" y="432.45" width="4" height="5.13" fill="#ffffff"/>
<rect x="785.48" y="396.92" width="1.1" height="36.18" fill="#b4c0c4"/>
<rect x="784.03" y="396.97" width="4" height="36.18" fill="#ffffff"/>
<rect x="791.56" y="374.75" width="1.1" height="31.74" fill="#b4c0c4"/>
<rect x="790.11" y="379.23" width="4" height="22.88" fill="#ffffff"/>
<rect x="797.64" y="374.75" width="1.1" height="31.74" fill="#741418"/>
<rect x="796.19" y="383.67" width="4" height="18.44" fill="#a20000"/>
<rect x="803.73" y="388.05" width="1.1" height="22.88" fill="#741418"/>
<rect x="802.28" y="396.97" width="4" height="14.00" fill="#a20000"/>
<rect x="809.81" y="405.79" width="1.1" height="22.88" fill="#741418"/>
<rect x="808.36" y="410.28" width="4" height="9.57" fill="#a20000"/>
<rect x="815.89" y="388.05" width="1.1" height="36.18" fill="#b4c0c4"/>
<rect x="814.44" y="388.10" width="4" height="36.18" fill="#ffffff"/>
<rect x="821.97" y="379.18" width="1.1" height="9.57" fill="#b4c0c4"/>
<rect x="820.52" y="383.72" width="4" height="0.8" fill="#b4c0c4"/>
<rect x="828.05" y="379.18" width="1.1" height="40.62" fill="#741418"/>
<rect x="826.60" y="379.23" width="4" height="40.62" fill="#a20000"/>
<rect x="834.14" y="388.05" width="1.1" height="31.75" fill="#b4c0c4"/>
<rect x="832.69" y="396.97" width="4" height="18.44" fill="#ffffff"/>
<rect x="840.22" y="401.36" width="1.1" height="40.61" fill="#741418"/>
<rect x="838.77" y="401.41" width="4" height="40.61" fill="#a20000"/>
<rect x="846.30" y="423.53" width="1.1" height="18.44" fill="#741418"/>
<rect x="844.85" y="436.89" width="4" height="5.13" fill="#a20000"/>
<rect x="852.38" y="427.97" width="1.1" height="22.88" fill="#741418"/>
<rect x="850.93" y="436.89" width="4" height="5.13" fill="#a20000"/>
<rect x="858.46" y="401.36" width="1.1" height="40.61" fill="#b4c0c4"/>
<rect x="857.01" y="405.84" width="4" height="36.18" fill="#ffffff"/>
<rect x="864.55" y="388.05" width="1.1" height="22.88" fill="#741418"/>
<rect x="863.10" y="410.33" width="4" height="0.8" fill="#741418"/>
<rect x="870.63" y="405.79" width="1.1" height="22.88" fill="#741418"/>
<rect x="869.18" y="414.71" width="4" height="5.13" fill="#a20000"/>
<rect x="876.71" y="396.92" width="1.1" height="27.31" fill="#b4c0c4"/>
<rect x="875.26" y="405.84" width="4" height="18.44" fill="#ffffff"/>
<rect x="882.79" y="405.79" width="1.1" height="18.44" fill="#741418"/>
<rect x="881.34" y="405.84" width="4" height="14.00" fill="#a20000"/>
<rect x="888.87" y="419.10" width="1.1" height="49.49" fill="#741418"/>
<rect x="887.42" y="419.15" width="4" height="31.75" fill="#a20000"/>
<rect x="894.96" y="436.84" width="1.1" height="36.18" fill="#741418"/>
<rect x="893.51" y="450.19" width="4" height="9.57" fill="#a20000"/>
<rect x="901.04" y="432.40" width="1.1" height="53.92" fill="#b4c0c4"/>
<rect x="899.59" y="454.63" width="4" height="9.57" fill="#ffffff"/>
<rect x="907.12" y="436.84" width="1.1" height="36.18" fill="#b4c0c4"/>
<rect x="905.67" y="436.89" width="4" height="14.00" fill="#ffffff"/>
<rect x="913.20" y="427.97" width="1.1" height="27.31" fill="#b4c0c4"/>
<rect x="911.75" y="436.89" width="4" height="5.13" fill="#ffffff"/>
<rect x="919.28" y="423.53" width="1.1" height="58.35" fill="#741418"/>
<rect x="917.83" y="432.45" width="4" height="45.05" fill="#a20000"/>
<rect x="925.37" y="445.71" width="1.1" height="45.05" fill="#741418"/>
<rect x="923.92" y="472.37" width="4" height="14.01" fill="#a20000"/>
<rect x="931.45" y="459.01" width="1.1" height="36.18" fill="#741418"/>
<rect x="930.00" y="490.11" width="4" height="5.14" fill="#a20000"/>
<rect x="937.53" y="463.45" width="1.1" height="36.18" fill="#b4c0c4"/>
<rect x="936.08" y="490.16" width="4" height="0.8" fill="#b4c0c4"/>
<rect x="943.61" y="476.75" width="1.1" height="18.44" fill="#b4c0c4"/>
<rect x="942.16" y="481.24" width="4" height="9.57" fill="#ffffff"/>
<rect x="949.69" y="459.01" width="1.1" height="58.36" fill="#741418"/>
<rect x="948.24" y="481.24" width="4" height="18.44" fill="#a20000"/>
<rect x="955.78" y="498.93" width="1.1" height="36.18" fill="#741418"/>
<rect x="954.33" y="503.41" width="4" height="22.88" fill="#a20000"/>
<rect x="961.86" y="467.88" width="1.1" height="62.79" fill="#b4c0c4"/>
<rect x="960.41" y="485.68" width="4" height="45.05" fill="#ffffff"/>
<rect x="967.94" y="445.71" width="1.1" height="45.05" fill="#b4c0c4"/>
<rect x="966.49" y="454.63" width="4" height="31.75" fill="#ffffff"/>
<rect x="974.02" y="392.49" width="1.1" height="58.35" fill="#b4c0c4"/>
<rect x="972.57" y="419.15" width="4" height="31.75" fill="#ffffff"/>
<rect x="980.10" y="396.92" width="1.1" height="45.05" fill="#741418"/>
<rect x="978.65" y="414.71" width="4" height="27.31" fill="#a20000"/>
<rect x="986.19" y="419.10" width="1.1" height="27.31" fill="#b4c0c4"/>
<rect x="984.74" y="423.58" width="4" height="18.44" fill="#ffffff"/>
<rect x="992.27" y="361.44" width="1.1" height="67.22" fill="#b4c0c4"/>
<rect x="990.82" y="405.84" width="4" height="22.88" fill="#ffffff"/>
<rect x="998.35" y="396.92" width="1.1" height="58.36" fill="#741418"/>
<rect x="996.90" y="405.84" width="4" height="27.31" fill="#a20000"/>
<rect x="1004.43" y="396.92" width="1.1" height="36.18" fill="#b4c0c4"/>
<rect x="1002.98" y="410.28" width="4" height="22.88" fill="#ffffff"/>
<rect x="1010.51" y="343.70" width="1.1" height="84.96" fill="#b4c0c4"/>
<rect x="1009.06" y="343.75" width="4" height="67.22" fill="#ffffff"/>
<rect x="1016.60" y="334.83" width="1.1" height="45.05" fill="#b4c0c4"/>
<rect x="1015.15" y="339.32" width="4" height="5.13" fill="#ffffff"/>
<rect x="1022.68" y="325.96" width="1.1" height="45.05" fill="#741418"/>
<rect x="1021.23" y="339.32" width="4" height="5.13" fill="#a20000"/>
<rect x="1028.76" y="277.18" width="1.1" height="76.09" fill="#b4c0c4"/>
<rect x="1027.31" y="286.10" width="4" height="62.79" fill="#ffffff"/>
<rect x="1034.84" y="246.13" width="1.1" height="62.79" fill="#b4c0c4"/>
<rect x="1033.39" y="272.80" width="4" height="9.57" fill="#ffffff"/>
<rect x="1040.92" y="255.00" width="1.1" height="18.44" fill="#b4c0c4"/>
<rect x="1039.47" y="263.93" width="4" height="9.57" fill="#ffffff"/>
<rect x="1047.01" y="259.44" width="1.1" height="76.09" fill="#741418"/>
<rect x="1045.56" y="259.49" width="4" height="53.92" fill="#a20000"/>
<rect x="1053.09" y="272.75" width="1.1" height="45.05" fill="#b4c0c4"/>
<rect x="1051.64" y="290.54" width="4" height="22.87" fill="#ffffff"/>
<rect x="1059.17" y="272.75" width="1.1" height="36.18" fill="#b4c0c4"/>
<rect x="1057.72" y="281.67" width="4" height="9.57" fill="#ffffff"/>
<rect x="1065.25" y="263.88" width="1.1" height="27.31" fill="#b4c0c4"/>
<rect x="1063.80" y="268.36" width="4" height="9.57" fill="#ffffff"/>
<rect x="1071.33" y="268.31" width="1.1" height="40.61" fill="#741418"/>
<rect x="1069.88" y="268.36" width="4" height="27.31" fill="#a20000"/>
<rect x="1077.42" y="241.70" width="1.1" height="62.79" fill="#b4c0c4"/>
<rect x="1075.97" y="241.75" width="4" height="49.49" fill="#ffffff"/>
<rect x="1083.50" y="201.78" width="1.1" height="45.05" fill="#b4c0c4"/>
<rect x="1082.05" y="215.14" width="4" height="27.31" fill="#ffffff"/>
<rect x="1089.58" y="215.09" width="1.1" height="80.53" fill="#741418"/>
<rect x="1088.13" y="215.14" width="4" height="76.10" fill="#a20000"/>
<rect x="1095.66" y="263.88" width="1.1" height="49.48" fill="#b4c0c4"/>
<rect x="1094.21" y="263.93" width="4" height="22.87" fill="#ffffff"/>
</g>
<path d="M37.94,235.62 L44.03,240.62 L50.11,240.62 L56.19,240.62 L62.27,240.62 L68.35,248.73 L74.44,248.73 L80.52,248.73 L86.60,248.73 L92.68,248.73 L98.76,248.73 L104.85,248.73 L110.93,248.73 L117.01,248.73 L123.09,242.24 L129.17,242.24 L135.26,242.24 L141.34,242.24 L147.42,242.24 L153.50,242.24 L159.58,242.24 L165.67,242.24 L171.75,242.24 L177.83,242.24 L183.91,242.24 L189.99,242.24 L196.08,241.71 L202.16,241.71 L208.24,241.71 L214.32,241.71 L220.40,241.71 L226.49,241.71 L232.57,234.97 L238.65,233.10 L244.73,233.10 L250.81,233.10 L256.90,233.10 L262.98,233.10 L269.06,233.10 L275.14,233.10 L281.22,239.96 L287.31,248.08 L293.39,251.20 L299.47,251.20 L305.55,251.20 L311.63,251.20 L317.72,251.20 L323.80,251.20 L329.88,255.56 L335.96,255.56 L342.04,258.06 L348.13,264.30 L354.21,268.68 L360.29,273.05 L366.37,275.55 L372.45,275.55 L378.54,275.55 L384.62,275.55 L390.70,284.29 L396.78,284.29 L402.86,284.29 L408.95,284.29 L415.03,284.29 L421.11,284.29 L427.19,284.29 L433.27,284.29 L439.36,284.29 L445.44,284.29 L451.52,286.16 L457.60,294.90 L463.68,297.39 L469.77,297.64 L475.85,313.10 L481.93,324.33 L488.01,328.70 L494.09,337.69 L500.18,337.69 L506.26,337.69 L512.34,337.69 L518.42,341.87 L524.50,341.87 L530.59,341.87 L536.67,341.87 L542.75,341.87 L548.83,344.99 L554.91,350.61 L561.00,352.86 L567.08,352.86 L573.16,352.86 L579.24,355.60 L585.32,358.10 L591.41,358.35 L597.49,358.47 L603.57,368.56 L609.65,378.65 L615.73,388.74 L621.82,421.82 L627.90,428.43 L633.98,428.43 L640.06,428.43 L646.14,428.43 L652.23,428.43 L658.31,428.43 L664.39,428.43 L670.47,428.43 L676.55,428.43 L682.64,430.93 L688.72,430.93 L694.80,441.79 L700.88,442.41 L706.96,446.16 L713.05,446.16 L719.13,446.16 L725.21,449.90 L731.29,459.89 L737.37,459.89 L743.46,459.65 L749.54,467.77 L755.62,472.76 L761.70,468.64 L767.78,468.64 L773.87,468.64 L779.95,468.64 L786.03,468.02 L792.11,457.41 L798.19,457.41 L804.28,457.41 L810.36,457.41 L816.44,457.41 L822.52,457.41 L828.60,457.41 L834.69,457.41 L840.77,457.41 L846.85,457.41 L852.93,457.41 L859.01,457.41 L865.10,457.41 L871.18,457.41 L877.26,457.41 L883.34,447.42 L889.42,431.82 L895.51,426.20 L901.59,430.95 L907.67,430.95 L913.75,430.95 L919.83,431.20 L925.92,433.69 L932.00,435.56 L938.08,437.44 L944.16,437.69 L950.24,445.55 L956.33,457.16 L962.41,457.41 L968.49,457.41 L974.57,457.41 L980.65,457.41 L986.74,461.77 L992.82,449.54 L998.90,449.17 L1004.98,448.79 L1011.06,438.68 L1017.15,434.69 L1023.23,430.57 L1029.31,412.49 L1035.39,391.39 L1041.47,391.39 L1047.56,391.39 L1053.64,391.39 L1059.72,391.39 L1065.80,391.39 L1071.88,391.39 L1077.97,388.02 L1084.05,368.68 L1090.13,368.68 L1096.21,368.68" fill="none" stroke="#6464e6" stroke-width="1.15" stroke-linejoin="round" stroke-opacity="0.5"/>
<path d="M37.94,242.24 L44.03,249.98 L50.11,257.47 L56.19,257.47 L62.27,257.47 L68.35,266.83 L74.44,266.83 L80.52,266.83 L86.60,266.83 L92.68,266.83 L98.76,271.20 L104.85,271.20 L110.93,261.83 L117.01,253.72 L123.09,242.49 L129.17,235.53 L135.26,232.41 L141.34,228.41 L147.42,228.41 L153.50,228.41 L159.58,220.17 L165.67,221.80 L171.75,222.42 L177.83,226.17 L183.91,236.15 L189.99,239.65 L196.08,239.96 L202.16,239.96 L208.24,239.96 L214.32,240.59 L220.40,241.83 L226.49,246.20 L232.57,248.45 L238.65,257.44 L244.73,257.44 L250.81,257.44 L256.90,264.30 L262.98,264.30 L269.06,266.17 L275.14,266.80 L281.22,271.17 L287.31,271.17 L293.39,268.67 L299.47,268.67 L305.55,264.93 L311.63,261.80 L317.72,259.31 L323.80,259.31 L329.88,259.31 L335.96,259.31 L342.04,261.80 L348.13,268.67 L354.21,273.93 L360.29,273.68 L366.37,276.17 L372.45,278.05 L378.54,280.54 L384.62,284.29 L390.70,301.86 L396.78,302.24 L402.86,302.24 L408.95,302.24 L415.03,306.86 L421.11,306.86 L427.19,306.86 L433.27,306.86 L439.36,306.86 L445.44,306.86 L451.52,308.11 L457.60,317.47 L463.68,319.96 L469.77,319.96 L475.85,334.94 L481.93,346.42 L488.01,346.42 L494.09,346.42 L500.18,346.80 L506.26,358.03 L512.34,358.03 L518.42,359.97 L524.50,362.22 L530.59,362.22 L536.67,359.35 L542.75,359.60 L548.83,366.21 L554.91,370.58 L561.00,373.45 L567.08,373.45 L573.16,373.45 L579.24,375.57 L585.32,375.57 L591.41,386.25 L597.49,386.25 L603.57,399.98 L609.65,405.59 L615.73,410.59 L621.82,439.92 L627.90,454.27 L633.98,455.52 L640.06,455.52 L646.14,463.63 L652.23,468.11 L658.31,468.48 L664.39,472.47 L670.47,488.08 L676.55,488.08 L682.64,488.08 L688.72,488.08 L694.80,488.08 L700.88,488.08 L706.96,488.08 L713.05,488.08 L719.13,489.95 L725.21,497.44 L731.29,497.44 L737.37,497.44 L743.46,497.44 L749.54,497.44 L755.62,478.71 L761.70,468.64 L767.78,468.64 L773.87,468.64 L779.95,459.90 L786.03,443.05 L792.11,425.58 L798.19,421.83 L804.28,417.47 L810.36,413.10 L816.44,413.47 L822.52,413.47 L828.60,413.47 L834.69,404.36 L840.77,408.73 L846.85,409.35 L852.93,414.97 L859.01,414.97 L865.10,414.97 L871.18,414.97 L877.26,414.97 L883.34,418.71 L889.42,428.70 L895.51,431.20 L901.59,437.44 L907.67,437.69 L913.75,437.69 L919.83,441.80 L925.92,444.30 L932.00,451.17 L938.08,459.90 L944.16,461.24 L950.24,470.23 L956.33,479.09 L962.41,479.71 L968.49,479.34 L974.57,464.36 L980.65,463.99 L986.74,463.99 L992.82,449.29 L998.90,448.92 L1004.98,448.67 L1011.06,436.19 L1017.15,412.49 L1023.23,389.90 L1029.31,366.43 L1035.39,350.95 L1041.47,350.95 L1047.56,350.70 L1053.64,341.84 L1059.72,336.85 L1065.80,313.02 L1071.88,307.41 L1077.97,298.05 L1084.05,268.46 L1090.13,268.46 L1096.21,268.46" fill="none" stroke="#f03c3c" stroke-width="1.1" stroke-linejoin="round" stroke-opacity="0.5"/>
<path d="M37.94,237.76 L44.03,246.63 L50.11,255.50 L56.19,251.07 L62.27,255.50 L68.35,259.94 L74.44,268.81 L80.52,268.81 L86.60,268.81 L92.68,268.81 L98.76,277.68 L104.85,277.68 L110.93,268.81 L117.01,273.25 L123.09,259.94 L129.17,273.25 L135.26,273.25 L141.34,259.94 L147.42,255.50 L153.50,251.07 L159.58,246.63 L165.67,251.07 L171.75,264.38 L177.83,277.68 L183.91,282.12 L189.99,295.42 L196.08,299.85 L202.16,299.85 L208.24,304.29 L214.32,304.29 L220.40,299.85 L226.49,299.85 L232.57,308.72 L238.65,304.29 L244.73,290.99 L250.81,304.29 L256.90,290.99 L262.98,290.99 L269.06,313.16 L275.14,313.16 L281.22,326.46 L287.31,299.85 L293.39,330.90 L299.47,344.20 L305.55,322.03 L311.63,335.33 L317.72,366.38 L323.80,379.68 L329.88,388.55 L335.96,384.12 L342.04,353.07 L348.13,348.64 L354.21,361.94 L360.29,348.64 L366.37,326.46 L372.45,353.07 L378.54,388.55 L384.62,370.81 L390.70,392.99 L396.78,401.86 L402.86,384.12 L408.95,375.25 L415.03,392.99 L421.11,397.42 L427.19,384.12 L433.27,397.42 L439.36,406.29 L445.44,428.47 L451.52,441.77 L457.60,450.64 L463.68,508.30 L469.77,530.47 L475.85,495.00 L481.93,481.69 L488.01,490.56 L494.09,495.00 L500.18,477.25 L506.26,450.64 L512.34,486.12 L518.42,486.12 L524.50,463.95 L530.59,490.56 L536.67,495.00 L542.75,490.56 L548.83,499.43 L554.91,503.86 L561.00,508.30 L567.08,526.04 L573.16,486.12 L579.24,463.95 L585.32,472.82 L591.41,463.95 L597.49,419.60 L603.57,415.16 L609.65,419.60 L615.73,437.34 L621.82,432.90 L627.90,397.42 L633.98,379.68 L640.06,401.86 L646.14,410.73 L652.23,419.60 L658.31,388.55 L664.39,384.12 L670.47,419.60 L676.55,397.42 L682.64,441.77 L688.72,441.77 L694.80,441.77 L700.88,406.29 L706.96,410.73 L713.05,419.60 L719.13,406.29 L725.21,419.60 L731.29,450.64 L737.37,459.51 L743.46,455.08 L749.54,437.34 L755.62,437.34 L761.70,477.25 L767.78,486.12 L773.87,495.00 L779.95,490.56 L786.03,481.69 L792.11,499.43 L798.19,526.04 L804.28,486.12 L810.36,455.08 L816.44,419.60 L822.52,441.77 L828.60,424.03 L834.69,406.29 L840.77,432.90 L846.85,410.73 L852.93,344.20 L859.01,339.77 L865.10,344.20 L871.18,286.55 L877.26,273.25 L883.34,264.38 L889.42,313.16 L895.51,290.99 L901.59,282.12 L907.67,268.81 L913.75,295.42 L919.83,242.20 L925.92,215.59 L932.00,290.99 L938.08,264.38 L944.16,195.63 L950.24,126.89 L956.33,131.32 L962.41,113.59 L968.49,95.84 L974.57,91.41 L980.65,73.67 L986.74,100.28 L992.82,109.15 L998.90,109.15 L1004.98,95.84 L1011.06,73.67 L1017.15,78.10 L1023.23,64.80 L1029.31,47.06 L1035.39,91.41 L1041.47,113.59 L1047.56,104.72 L1053.64,118.02 L1059.72,118.02 L1065.80,126.89 L1071.88,149.06 L1077.97,100.28 L1084.05,135.76 L1090.13,131.32 L1096.21,126.89" fill="none" stroke="#c6c600" stroke-width="1.5" stroke-linejoin="round"/>
</g>
<text x="1101.8" y="129.0" fill="#c8c800" textLength="27.4" lengthAdjust="spacingAndGlyphs" xml:space="preserve">Chikou</text>
<text x="1102.3" y="270.8" fill="#f03c3c" textLength="27.6" lengthAdjust="spacingAndGlyphs" xml:space="preserve">Tenkan</text>
<text x="1101.6" y="370.4" fill="#6464e6" textLength="21.5" lengthAdjust="spacingAndGlyphs" xml:space="preserve">Ki jun</text>
<text x="1259.8" y="321.0" fill="#e6e6e6" textLength="27.2" lengthAdjust="spacingAndGlyphs" xml:space="preserve">Span A</text>
<text x="1259.8" y="370.4" fill="#f07878" textLength="27.2" lengthAdjust="spacingAndGlyphs" xml:space="preserve">Span B</text>
<rect x="32.9" y="0" width="1.3" height="648" fill="#7d9098"/>
<rect x="1307" y="0" width="2" height="648" fill="#5e727a"/>
<rect x="33" y="646.3" width="1276" height="1.5" fill="#5e727a"/>
<rect x="0" y="0" width="1" height="658" fill="#2c4048"/>
<rect x="1345" y="0" width="1" height="658" fill="#2c4048"/>
<rect x="31" y="11" width="2" height="1" fill="#5e727a"/>
<rect x="1309" y="11" width="1" height="1" fill="#5e727a"/>
<text x="2.3" y="14.2" fill="#e4e6e6" textLength="28.8" lengthAdjust="spacingAndGlyphs" xml:space="preserve">1.07360</text>
<text x="1310.3" y="14.2" fill="#e4e6e6" textLength="28.8" lengthAdjust="spacingAndGlyphs" xml:space="preserve">1.07360</text>
<rect x="31" y="29" width="2" height="1" fill="#5e727a"/>
<rect x="1309" y="29" width="1" height="1" fill="#5e727a"/>
<text x="2.3" y="31.9" fill="#e4e6e6" textLength="28.8" lengthAdjust="spacingAndGlyphs" xml:space="preserve">1.07340</text>
<text x="1310.3" y="31.9" fill="#e4e6e6" textLength="28.8" lengthAdjust="spacingAndGlyphs" xml:space="preserve">1.07340</text>
<rect x="31" y="46" width="2" height="1" fill="#5e727a"/>
<rect x="1309" y="46" width="1" height="1" fill="#5e727a"/>
<text x="2.3" y="49.7" fill="#e4e6e6" textLength="28.8" lengthAdjust="spacingAndGlyphs" xml:space="preserve">1.07320</text>
<text x="1310.3" y="49.7" fill="#e4e6e6" textLength="28.8" lengthAdjust="spacingAndGlyphs" xml:space="preserve">1.07320</text>
<rect x="31" y="64" width="2" height="1" fill="#5e727a"/>
<rect x="1309" y="64" width="1" height="1" fill="#5e727a"/>
<text x="2.3" y="67.4" fill="#e4e6e6" textLength="28.8" lengthAdjust="spacingAndGlyphs" xml:space="preserve">1.07300</text>
<text x="1310.3" y="67.4" fill="#e4e6e6" textLength="28.8" lengthAdjust="spacingAndGlyphs" xml:space="preserve">1.07300</text>
<rect x="31" y="82" width="2" height="1" fill="#5e727a"/>
<rect x="1309" y="82" width="1" height="1" fill="#5e727a"/>
<text x="2.3" y="85.2" fill="#e4e6e6" textLength="28.8" lengthAdjust="spacingAndGlyphs" xml:space="preserve">1.07280</text>
<text x="1310.3" y="85.2" fill="#e4e6e6" textLength="28.8" lengthAdjust="spacingAndGlyphs" xml:space="preserve">1.07280</text>
<rect x="31" y="99" width="2" height="1" fill="#5e727a"/>
<rect x="1309" y="99" width="1" height="1" fill="#5e727a"/>
<text x="2.3" y="102.9" fill="#e4e6e6" textLength="28.8" lengthAdjust="spacingAndGlyphs" xml:space="preserve">1.07260</text>
<text x="1310.3" y="102.9" fill="#e4e6e6" textLength="28.8" lengthAdjust="spacingAndGlyphs" xml:space="preserve">1.07260</text>
<rect x="31" y="117" width="2" height="1" fill="#5e727a"/>
<rect x="1309" y="117" width="1" height="1" fill="#5e727a"/>
<text x="2.3" y="120.6" fill="#e4e6e6" textLength="28.8" lengthAdjust="spacingAndGlyphs" xml:space="preserve">1.07240</text>
<text x="1310.3" y="120.6" fill="#e4e6e6" textLength="28.8" lengthAdjust="spacingAndGlyphs" xml:space="preserve">1.07240</text>
<rect x="31" y="135" width="2" height="1" fill="#5e727a"/>
<rect x="1309" y="135" width="1" height="1" fill="#5e727a"/>
<text x="2.3" y="138.4" fill="#e4e6e6" textLength="28.8" lengthAdjust="spacingAndGlyphs" xml:space="preserve">1.07220</text>
<text x="1310.3" y="138.4" fill="#e4e6e6" textLength="28.8" lengthAdjust="spacingAndGlyphs" xml:space="preserve">1.07220</text>
<rect x="31" y="153" width="2" height="1" fill="#5e727a"/>
<rect x="1309" y="153" width="1" height="1" fill="#5e727a"/>
<text x="2.3" y="156.1" fill="#e4e6e6" textLength="28.8" lengthAdjust="spacingAndGlyphs" xml:space="preserve">1.07200</text>
<text x="1310.3" y="156.1" fill="#e4e6e6" textLength="28.8" lengthAdjust="spacingAndGlyphs" xml:space="preserve">1.07200</text>
<rect x="31" y="170" width="2" height="1" fill="#5e727a"/>
<rect x="1309" y="170" width="1" height="1" fill="#5e727a"/>
<text x="2.3" y="173.9" fill="#e4e6e6" textLength="28.8" lengthAdjust="spacingAndGlyphs" xml:space="preserve">1.07180</text>
<text x="1310.3" y="173.9" fill="#e4e6e6" textLength="28.8" lengthAdjust="spacingAndGlyphs" xml:space="preserve">1.07180</text>
<rect x="31" y="188" width="2" height="1" fill="#5e727a"/>
<rect x="1309" y="188" width="1" height="1" fill="#5e727a"/>
<text x="2.3" y="191.6" fill="#e4e6e6" textLength="28.8" lengthAdjust="spacingAndGlyphs" xml:space="preserve">1.07160</text>
<text x="1310.3" y="191.6" fill="#e4e6e6" textLength="28.8" lengthAdjust="spacingAndGlyphs" xml:space="preserve">1.07160</text>
<rect x="31" y="206" width="2" height="1" fill="#5e727a"/>
<rect x="1309" y="206" width="1" height="1" fill="#5e727a"/>
<text x="2.3" y="209.3" fill="#e4e6e6" textLength="28.8" lengthAdjust="spacingAndGlyphs" xml:space="preserve">1.07140</text>
<text x="1310.3" y="209.3" fill="#e4e6e6" textLength="28.8" lengthAdjust="spacingAndGlyphs" xml:space="preserve">1.07140</text>
<rect x="31" y="224" width="2" height="1" fill="#5e727a"/>
<rect x="1309" y="224" width="1" height="1" fill="#5e727a"/>
<text x="2.3" y="227.1" fill="#e4e6e6" textLength="28.8" lengthAdjust="spacingAndGlyphs" xml:space="preserve">1.07120</text>
<text x="1310.3" y="227.1" fill="#e4e6e6" textLength="28.8" lengthAdjust="spacingAndGlyphs" xml:space="preserve">1.07120</text>
<rect x="31" y="241" width="2" height="1" fill="#5e727a"/>
<rect x="1309" y="241" width="1" height="1" fill="#5e727a"/>
<text x="2.3" y="244.8" fill="#e4e6e6" textLength="28.8" lengthAdjust="spacingAndGlyphs" xml:space="preserve">1.07100</text>
<text x="1310.3" y="244.8" fill="#e4e6e6" textLength="28.8" lengthAdjust="spacingAndGlyphs" xml:space="preserve">1.07100</text>
<rect x="31" y="259" width="2" height="1" fill="#5e727a"/>
<rect x="1309" y="259" width="1" height="1" fill="#5e727a"/>
<text x="2.3" y="262.6" fill="#e4e6e6" textLength="28.8" lengthAdjust="spacingAndGlyphs" xml:space="preserve">1.07080</text>
<text x="1310.3" y="262.6" fill="#e4e6e6" textLength="28.8" lengthAdjust="spacingAndGlyphs" xml:space="preserve">1.07080</text>
<rect x="31" y="277" width="2" height="1" fill="#5e727a"/>
<rect x="1309" y="277" width="1" height="1" fill="#5e727a"/>
<text x="2.3" y="280.3" fill="#e4e6e6" textLength="28.8" lengthAdjust="spacingAndGlyphs" xml:space="preserve">1.07060</text>
<text x="1310.3" y="280.3" fill="#e4e6e6" textLength="28.8" lengthAdjust="spacingAndGlyphs" xml:space="preserve">1.07060</text>
<rect x="31" y="295" width="2" height="1" fill="#5e727a"/>
<rect x="1309" y="295" width="1" height="1" fill="#5e727a"/>
<text x="2.3" y="298.0" fill="#e4e6e6" textLength="28.8" lengthAdjust="spacingAndGlyphs" xml:space="preserve">1.07040</text>
<text x="1310.3" y="298.0" fill="#e4e6e6" textLength="28.8" lengthAdjust="spacingAndGlyphs" xml:space="preserve">1.07040</text>
<rect x="31" y="312" width="2" height="1" fill="#5e727a"/>
<rect x="1309" y="312" width="1" height="1" fill="#5e727a"/>
<text x="2.3" y="315.8" fill="#e4e6e6" textLength="28.8" lengthAdjust="spacingAndGlyphs" xml:space="preserve">1.07020</text>
<text x="1310.3" y="315.8" fill="#e4e6e6" textLength="28.8" lengthAdjust="spacingAndGlyphs" xml:space="preserve">1.07020</text>
<rect x="31" y="330" width="2" height="1" fill="#5e727a"/>
<rect x="1309" y="330" width="1" height="1" fill="#5e727a"/>
<text x="2.3" y="333.5" fill="#e4e6e6" textLength="28.8" lengthAdjust="spacingAndGlyphs" xml:space="preserve">1.07000</text>
<text x="1310.3" y="333.5" fill="#e4e6e6" textLength="28.8" lengthAdjust="spacingAndGlyphs" xml:space="preserve">1.07000</text>
<rect x="31" y="348" width="2" height="1" fill="#5e727a"/>
<rect x="1309" y="348" width="1" height="1" fill="#5e727a"/>
<text x="2.3" y="351.3" fill="#e4e6e6" textLength="28.8" lengthAdjust="spacingAndGlyphs" xml:space="preserve">1.06980</text>
<text x="1310.3" y="351.3" fill="#e4e6e6" textLength="28.8" lengthAdjust="spacingAndGlyphs" xml:space="preserve">1.06980</text>
<rect x="31" y="366" width="2" height="1" fill="#5e727a"/>
<rect x="1309" y="366" width="1" height="1" fill="#5e727a"/>
<text x="2.3" y="369.0" fill="#e4e6e6" textLength="28.8" lengthAdjust="spacingAndGlyphs" xml:space="preserve">1.06960</text>
<text x="1310.3" y="369.0" fill="#e4e6e6" textLength="28.8" lengthAdjust="spacingAndGlyphs" xml:space="preserve">1.06960</text>
<rect x="31" y="383" width="2" height="1" fill="#5e727a"/>
<rect x="1309" y="383" width="1" height="1" fill="#5e727a"/>
<text x="2.3" y="386.7" fill="#e4e6e6" textLength="28.8" lengthAdjust="spacingAndGlyphs" xml:space="preserve">1.06940</text>
<text x="1310.3" y="386.7" fill="#e4e6e6" textLength="28.8" lengthAdjust="spacingAndGlyphs" xml:space="preserve">1.06940</text>
<rect x="31" y="401" width="2" height="1" fill="#5e727a"/>
<rect x="1309" y="401" width="1" height="1" fill="#5e727a"/>
<text x="2.3" y="404.5" fill="#e4e6e6" textLength="28.8" lengthAdjust="spacingAndGlyphs" xml:space="preserve">1.06920</text>
<text x="1310.3" y="404.5" fill="#e4e6e6" textLength="28.8" lengthAdjust="spacingAndGlyphs" xml:space="preserve">1.06920</text>
<rect x="31" y="419" width="2" height="1" fill="#5e727a"/>
<rect x="1309" y="419" width="1" height="1" fill="#5e727a"/>
<text x="2.3" y="422.2" fill="#e4e6e6" textLength="28.8" lengthAdjust="spacingAndGlyphs" xml:space="preserve">1.06900</text>
<text x="1310.3" y="422.2" fill="#e4e6e6" textLength="28.8" lengthAdjust="spacingAndGlyphs" xml:space="preserve">1.06900</text>
<rect x="31" y="437" width="2" height="1" fill="#5e727a"/>
<rect x="1309" y="437" width="1" height="1" fill="#5e727a"/>
<text x="2.3" y="440.0" fill="#e4e6e6" textLength="28.8" lengthAdjust="spacingAndGlyphs" xml:space="preserve">1.06880</text>
<text x="1310.3" y="440.0" fill="#e4e6e6" textLength="28.8" lengthAdjust="spacingAndGlyphs" xml:space="preserve">1.06880</text>
<rect x="31" y="454" width="2" height="1" fill="#5e727a"/>
<rect x="1309" y="454" width="1" height="1" fill="#5e727a"/>
<text x="2.3" y="457.7" fill="#e4e6e6" textLength="28.8" lengthAdjust="spacingAndGlyphs" xml:space="preserve">1.06860</text>
<text x="1310.3" y="457.7" fill="#e4e6e6" textLength="28.8" lengthAdjust="spacingAndGlyphs" xml:space="preserve">1.06860</text>
<rect x="31" y="472" width="2" height="1" fill="#5e727a"/>
<rect x="1309" y="472" width="1" height="1" fill="#5e727a"/>
<text x="2.3" y="475.4" fill="#e4e6e6" textLength="28.8" lengthAdjust="spacingAndGlyphs" xml:space="preserve">1.06840</text>
<text x="1310.3" y="475.4" fill="#e4e6e6" textLength="28.8" lengthAdjust="spacingAndGlyphs" xml:space="preserve">1.06840</text>
<rect x="31" y="490" width="2" height="1" fill="#5e727a"/>
<rect x="1309" y="490" width="1" height="1" fill="#5e727a"/>
<text x="2.3" y="493.2" fill="#e4e6e6" textLength="28.8" lengthAdjust="spacingAndGlyphs" xml:space="preserve">1.06820</text>
<text x="1310.3" y="493.2" fill="#e4e6e6" textLength="28.8" lengthAdjust="spacingAndGlyphs" xml:space="preserve">1.06820</text>
<rect x="31" y="508" width="2" height="1" fill="#5e727a"/>
<rect x="1309" y="508" width="1" height="1" fill="#5e727a"/>
<text x="2.3" y="510.9" fill="#e4e6e6" textLength="28.8" lengthAdjust="spacingAndGlyphs" xml:space="preserve">1.06800</text>
<text x="1310.3" y="510.9" fill="#e4e6e6" textLength="28.8" lengthAdjust="spacingAndGlyphs" xml:space="preserve">1.06800</text>
<rect x="31" y="525" width="2" height="1" fill="#5e727a"/>
<rect x="1309" y="525" width="1" height="1" fill="#5e727a"/>
<text x="2.3" y="528.7" fill="#e4e6e6" textLength="28.8" lengthAdjust="spacingAndGlyphs" xml:space="preserve">1.06780</text>
<text x="1310.3" y="528.7" fill="#e4e6e6" textLength="28.8" lengthAdjust="spacingAndGlyphs" xml:space="preserve">1.06780</text>
<rect x="31" y="543" width="2" height="1" fill="#5e727a"/>
<rect x="1309" y="543" width="1" height="1" fill="#5e727a"/>
<text x="2.3" y="546.4" fill="#e4e6e6" textLength="28.8" lengthAdjust="spacingAndGlyphs" xml:space="preserve">1.06760</text>
<text x="1310.3" y="546.4" fill="#e4e6e6" textLength="28.8" lengthAdjust="spacingAndGlyphs" xml:space="preserve">1.06760</text>
<rect x="31" y="561" width="2" height="1" fill="#5e727a"/>
<rect x="1309" y="561" width="1" height="1" fill="#5e727a"/>
<text x="2.3" y="564.1" fill="#e4e6e6" textLength="28.8" lengthAdjust="spacingAndGlyphs" xml:space="preserve">1.06740</text>
<text x="1310.3" y="564.1" fill="#e4e6e6" textLength="28.8" lengthAdjust="spacingAndGlyphs" xml:space="preserve">1.06740</text>
<rect x="31" y="578" width="2" height="1" fill="#5e727a"/>
<rect x="1309" y="578" width="1" height="1" fill="#5e727a"/>
<text x="2.3" y="581.9" fill="#e4e6e6" textLength="28.8" lengthAdjust="spacingAndGlyphs" xml:space="preserve">1.06720</text>
<text x="1310.3" y="581.9" fill="#e4e6e6" textLength="28.8" lengthAdjust="spacingAndGlyphs" xml:space="preserve">1.06720</text>
<rect x="31" y="596" width="2" height="1" fill="#5e727a"/>
<rect x="1309" y="596" width="1" height="1" fill="#5e727a"/>
<text x="2.3" y="599.6" fill="#e4e6e6" textLength="28.8" lengthAdjust="spacingAndGlyphs" xml:space="preserve">1.06700</text>
<text x="1310.3" y="599.6" fill="#e4e6e6" textLength="28.8" lengthAdjust="spacingAndGlyphs" xml:space="preserve">1.06700</text>
<rect x="31" y="614" width="2" height="1" fill="#5e727a"/>
<rect x="1309" y="614" width="1" height="1" fill="#5e727a"/>
<text x="2.3" y="617.4" fill="#e4e6e6" textLength="28.8" lengthAdjust="spacingAndGlyphs" xml:space="preserve">1.06680</text>
<text x="1310.3" y="617.4" fill="#e4e6e6" textLength="28.8" lengthAdjust="spacingAndGlyphs" xml:space="preserve">1.06680</text>
<rect x="31" y="632" width="2" height="1" fill="#5e727a"/>
<rect x="1309" y="632" width="1" height="1" fill="#5e727a"/>
<text x="2.3" y="635.1" fill="#e4e6e6" textLength="28.8" lengthAdjust="spacingAndGlyphs" xml:space="preserve">1.06660</text>
<text x="1310.3" y="635.1" fill="#e4e6e6" textLength="28.8" lengthAdjust="spacingAndGlyphs" xml:space="preserve">1.06660</text>
<rect x="1310" y="259" width="30" height="11" fill="#ffffff"/>
<text x="1311.0" y="266.9" fill="#202020" textLength="28.2" lengthAdjust="spacingAndGlyphs" xml:space="preserve">1.07075</text>
<rect x="33.6" y="648.8" width="23.3" height="9.2" fill="#ffffff"/>
<rect x="37" y="648" width="1" height="1" fill="#5e727a"/>
<clipPath id="d1"><rect x="34" y="648" width="23" height="10"/></clipPath>
<text x="56.3" y="655.8" fill="#202020" textLength="39.0" lengthAdjust="spacingAndGlyphs" text-anchor="end" clip-path="url(#d1)" xml:space="preserve">2023-11-7</text>
<rect x="74" y="648" width="1" height="1" fill="#5e727a"/>
<text x="64.1" y="655.8" fill="#e4e6e6" textLength="19.8" lengthAdjust="spacingAndGlyphs" xml:space="preserve">19:40</text>
<rect x="104" y="648" width="1" height="1" fill="#5e727a"/>
<text x="94.5" y="655.8" fill="#e4e6e6" textLength="19.8" lengthAdjust="spacingAndGlyphs" xml:space="preserve">20:05</text>
<rect x="135" y="648" width="1" height="1" fill="#5e727a"/>
<text x="125.0" y="655.8" fill="#e4e6e6" textLength="19.8" lengthAdjust="spacingAndGlyphs" xml:space="preserve">20:30</text>
<rect x="165" y="648" width="1" height="1" fill="#5e727a"/>
<text x="155.4" y="655.8" fill="#e4e6e6" textLength="19.8" lengthAdjust="spacingAndGlyphs" xml:space="preserve">20:55</text>
<rect x="196" y="648" width="1" height="1" fill="#5e727a"/>
<text x="185.8" y="655.8" fill="#e4e6e6" textLength="19.8" lengthAdjust="spacingAndGlyphs" xml:space="preserve">21:20</text>
<rect x="226" y="648" width="1" height="1" fill="#5e727a"/>
<text x="216.2" y="655.8" fill="#e4e6e6" textLength="19.8" lengthAdjust="spacingAndGlyphs" xml:space="preserve">21:45</text>
<rect x="256" y="648" width="1" height="1" fill="#5e727a"/>
<text x="246.6" y="655.8" fill="#e4e6e6" textLength="19.8" lengthAdjust="spacingAndGlyphs" xml:space="preserve">22:10</text>
<rect x="287" y="648" width="1" height="1" fill="#5e727a"/>
<text x="277.0" y="655.8" fill="#e4e6e6" textLength="19.8" lengthAdjust="spacingAndGlyphs" xml:space="preserve">22:35</text>
<rect x="317" y="648" width="1" height="1" fill="#5e727a"/>
<text x="307.4" y="655.8" fill="#e4e6e6" textLength="19.8" lengthAdjust="spacingAndGlyphs" xml:space="preserve">23:00</text>
<rect x="348" y="648" width="1" height="1" fill="#5e727a"/>
<text x="337.8" y="655.8" fill="#e4e6e6" textLength="19.8" lengthAdjust="spacingAndGlyphs" xml:space="preserve">23:25</text>
<rect x="382.3" y="648.8" width="16.3" height="9.2" fill="#ffffff"/>
<rect x="390" y="648" width="1" height="1" fill="#5e727a"/>
<text x="383.0" y="655.8" fill="#202020" textLength="15.0" lengthAdjust="spacingAndGlyphs" xml:space="preserve">11-8</text>
<rect x="415" y="648" width="1" height="1" fill="#5e727a"/>
<text x="406.4" y="655.8" fill="#e4e6e6" textLength="16.4" lengthAdjust="spacingAndGlyphs" xml:space="preserve">0:20</text>
<rect x="439" y="648" width="1" height="1" fill="#5e727a"/>
<text x="430.8" y="655.8" fill="#e4e6e6" textLength="16.4" lengthAdjust="spacingAndGlyphs" xml:space="preserve">0:40</text>
<rect x="463" y="648" width="1" height="1" fill="#5e727a"/>
<text x="455.1" y="655.8" fill="#e4e6e6" textLength="16.4" lengthAdjust="spacingAndGlyphs" xml:space="preserve">1:00</text>
<rect x="488" y="648" width="1" height="1" fill="#5e727a"/>
<text x="479.4" y="655.8" fill="#e4e6e6" textLength="16.4" lengthAdjust="spacingAndGlyphs" xml:space="preserve">1:20</text>
<rect x="512" y="648" width="1" height="1" fill="#5e727a"/>
<text x="503.7" y="655.8" fill="#e4e6e6" textLength="16.4" lengthAdjust="spacingAndGlyphs" xml:space="preserve">1:40</text>
<rect x="536" y="648" width="1" height="1" fill="#5e727a"/>
<text x="528.1" y="655.8" fill="#e4e6e6" textLength="16.4" lengthAdjust="spacingAndGlyphs" xml:space="preserve">2:00</text>
<rect x="560" y="648" width="1" height="1" fill="#5e727a"/>
<text x="552.4" y="655.8" fill="#e4e6e6" textLength="16.4" lengthAdjust="spacingAndGlyphs" xml:space="preserve">2:20</text>
<rect x="585" y="648" width="1" height="1" fill="#5e727a"/>
<text x="576.7" y="655.8" fill="#e4e6e6" textLength="16.4" lengthAdjust="spacingAndGlyphs" xml:space="preserve">2:40</text>
<rect x="609" y="648" width="1" height="1" fill="#5e727a"/>
<text x="601.1" y="655.8" fill="#e4e6e6" textLength="16.4" lengthAdjust="spacingAndGlyphs" xml:space="preserve">3:00</text>
<rect x="633" y="648" width="1" height="1" fill="#5e727a"/>
<text x="625.4" y="655.8" fill="#e4e6e6" textLength="16.4" lengthAdjust="spacingAndGlyphs" xml:space="preserve">3:20</text>
<rect x="658" y="648" width="1" height="1" fill="#5e727a"/>
<text x="649.7" y="655.8" fill="#e4e6e6" textLength="16.4" lengthAdjust="spacingAndGlyphs" xml:space="preserve">3:40</text>
<rect x="682" y="648" width="1" height="1" fill="#5e727a"/>
<text x="674.0" y="655.8" fill="#e4e6e6" textLength="16.4" lengthAdjust="spacingAndGlyphs" xml:space="preserve">4:00</text>
<rect x="706" y="648" width="1" height="1" fill="#5e727a"/>
<text x="698.4" y="655.8" fill="#e4e6e6" textLength="16.4" lengthAdjust="spacingAndGlyphs" xml:space="preserve">4:20</text>
<rect x="731" y="648" width="1" height="1" fill="#5e727a"/>
<text x="722.7" y="655.8" fill="#e4e6e6" textLength="16.4" lengthAdjust="spacingAndGlyphs" xml:space="preserve">4:40</text>
<rect x="755" y="648" width="1" height="1" fill="#5e727a"/>
<text x="747.0" y="655.8" fill="#e4e6e6" textLength="16.4" lengthAdjust="spacingAndGlyphs" xml:space="preserve">5:00</text>
<rect x="779" y="648" width="1" height="1" fill="#5e727a"/>
<text x="771.3" y="655.8" fill="#e4e6e6" textLength="16.4" lengthAdjust="spacingAndGlyphs" xml:space="preserve">5:20</text>
<rect x="804" y="648" width="1" height="1" fill="#5e727a"/>
<text x="795.7" y="655.8" fill="#e4e6e6" textLength="16.4" lengthAdjust="spacingAndGlyphs" xml:space="preserve">5:40</text>
<rect x="828" y="648" width="1" height="1" fill="#5e727a"/>
<text x="820.0" y="655.8" fill="#e4e6e6" textLength="16.4" lengthAdjust="spacingAndGlyphs" xml:space="preserve">6:00</text>
<rect x="852" y="648" width="1" height="1" fill="#5e727a"/>
<text x="844.3" y="655.8" fill="#e4e6e6" textLength="16.4" lengthAdjust="spacingAndGlyphs" xml:space="preserve">6:20</text>
<rect x="877" y="648" width="1" height="1" fill="#5e727a"/>
<text x="868.7" y="655.8" fill="#e4e6e6" textLength="16.4" lengthAdjust="spacingAndGlyphs" xml:space="preserve">6:40</text>
<rect x="901" y="648" width="1" height="1" fill="#5e727a"/>
<text x="893.0" y="655.8" fill="#e4e6e6" textLength="16.4" lengthAdjust="spacingAndGlyphs" xml:space="preserve">7:00</text>
<rect x="925" y="648" width="1" height="1" fill="#5e727a"/>
<text x="917.3" y="655.8" fill="#e4e6e6" textLength="16.4" lengthAdjust="spacingAndGlyphs" xml:space="preserve">7:20</text>
<rect x="950" y="648" width="1" height="1" fill="#5e727a"/>
<text x="941.6" y="655.8" fill="#e4e6e6" textLength="16.4" lengthAdjust="spacingAndGlyphs" xml:space="preserve">7:40</text>
<rect x="974" y="648" width="1" height="1" fill="#5e727a"/>
<text x="966.0" y="655.8" fill="#e4e6e6" textLength="16.4" lengthAdjust="spacingAndGlyphs" xml:space="preserve">8:00</text>
<rect x="998" y="648" width="1" height="1" fill="#5e727a"/>
<text x="990.3" y="655.8" fill="#e4e6e6" textLength="16.4" lengthAdjust="spacingAndGlyphs" xml:space="preserve">8:20</text>
<rect x="1023" y="648" width="1" height="1" fill="#5e727a"/>
<text x="1014.6" y="655.8" fill="#e4e6e6" textLength="16.4" lengthAdjust="spacingAndGlyphs" xml:space="preserve">8:40</text>
<rect x="1047" y="648" width="1" height="1" fill="#5e727a"/>
<text x="1039.0" y="655.8" fill="#e4e6e6" textLength="16.4" lengthAdjust="spacingAndGlyphs" xml:space="preserve">9:00</text>
<rect x="1071" y="648" width="1" height="1" fill="#5e727a"/>
<text x="1063.3" y="655.8" fill="#e4e6e6" textLength="16.4" lengthAdjust="spacingAndGlyphs" xml:space="preserve">9:20</text>
<rect x="1096" y="648" width="1" height="1" fill="#5e727a"/>
<text x="1087.6" y="655.8" fill="#e4e6e6" textLength="16.4" lengthAdjust="spacingAndGlyphs" xml:space="preserve">9:40</text>
<rect x="1120" y="648" width="1" height="1" fill="#5e727a"/>
<text x="1110.2" y="655.8" fill="#e4e6e6" textLength="19.8" lengthAdjust="spacingAndGlyphs" xml:space="preserve">10:00</text>
<rect x="1150" y="648" width="1" height="1" fill="#5e727a"/>
<text x="1140.6" y="655.8" fill="#e4e6e6" textLength="19.8" lengthAdjust="spacingAndGlyphs" xml:space="preserve">10:25</text>
<rect x="1181" y="648" width="1" height="1" fill="#5e727a"/>
<text x="1171.1" y="655.8" fill="#e4e6e6" textLength="19.8" lengthAdjust="spacingAndGlyphs" xml:space="preserve">10:50</text>
<rect x="1211" y="648" width="1" height="1" fill="#5e727a"/>
<text x="1201.5" y="655.8" fill="#e4e6e6" textLength="19.8" lengthAdjust="spacingAndGlyphs" xml:space="preserve">11:15</text>
<rect x="1242" y="648" width="1" height="1" fill="#5e727a"/>
<text x="1231.9" y="655.8" fill="#e4e6e6" textLength="19.8" lengthAdjust="spacingAndGlyphs" xml:space="preserve">11:40</text>
<rect x="1272" y="648" width="1" height="1" fill="#5e727a"/>
<text x="1262.3" y="655.8" fill="#e4e6e6" textLength="19.8" lengthAdjust="spacingAndGlyphs" xml:space="preserve">12:05</text>
<rect x="1303" y="648" width="1" height="1" fill="#5e727a"/>
<text x="1292.7" y="655.8" fill="#e4e6e6" textLength="19.8" lengthAdjust="spacingAndGlyphs" xml:space="preserve">12:30</text>
<rect x="1318.6" y="648.3" width="26.4" height="9.7" fill="#ff0000"/>
<text x="1321.3" y="655.8" fill="#ffffff" textLength="21.2" lengthAdjust="spacingAndGlyphs" xml:space="preserve">12 L E</text>
<text x="35.6" y="7.8" fill="#e4e6e6" textLength="44.3" lengthAdjust="spacingAndGlyphs" xml:space="preserve">6EZ23-CME</text>
<text x="83.2" y="7.8" fill="#e4e6e6" textLength="36.0" lengthAdjust="spacingAndGlyphs" xml:space="preserve">[CBV][M]</text>
<text x="125.5" y="7.8" fill="#e4e6e6" textLength="21.6" lengthAdjust="spacingAndGlyphs" xml:space="preserve">5 Min</text>
<text x="155.2" y="7.8" fill="#e4e6e6" textLength="7.1" lengthAdjust="spacingAndGlyphs" xml:space="preserve">#1</text>
<rect x="165.6" y="0" width="40.6" height="10.6" fill="#ffffff"/>
<text x="166.4" y="7.8" fill="#202020" textLength="38.8" lengthAdjust="spacingAndGlyphs" xml:space="preserve">C: 1.07075</text>
<text x="208.6" y="7.8" fill="#e4e6e6" textLength="22.1" lengthAdjust="spacingAndGlyphs" xml:space="preserve">T: 902</text>
<rect x="233.8" y="0" width="50.9" height="10.6" fill="#00b800"/>
<text x="234.6" y="7.8" fill="#006e00" textLength="49.4" lengthAdjust="spacingAndGlyphs" xml:space="preserve">Chg: 0.00030</text>
<rect x="286.9" y="0" width="57.1" height="10.6" fill="#00b800"/>
<text x="287.4" y="7.8" fill="#006e00" textLength="56.0" lengthAdjust="spacingAndGlyphs" xml:space="preserve">DChg: 0.00070</text>
<text x="346.5" y="7.8" fill="#e4e6e6" textLength="76.5" lengthAdjust="spacingAndGlyphs" xml:space="preserve">2023-11-08 09:40:00</text>
<text x="426.8" y="7.8" fill="#e4e6e6" textLength="40.0" lengthAdjust="spacingAndGlyphs" xml:space="preserve">H: 1.07075</text>
<text x="470.6" y="7.8" fill="#e4e6e6" textLength="37.1" lengthAdjust="spacingAndGlyphs" xml:space="preserve">L: 1.07020</text>
<text x="511.4" y="7.8" fill="#e4e6e6" textLength="40.2" lengthAdjust="spacingAndGlyphs" xml:space="preserve">O: 1.07050</text>
<text x="554.6" y="7.8" fill="#e4e6e6" textLength="27.4" lengthAdjust="spacingAndGlyphs" xml:space="preserve">V: 1546</text>
<text x="585.2" y="7.8" fill="#e4e6e6" textLength="37.7" lengthAdjust="spacingAndGlyphs" xml:space="preserve">B: 1.07015</text>
<text x="626.4" y="7.8" fill="#e4e6e6" textLength="38.6" lengthAdjust="spacingAndGlyphs" xml:space="preserve">A: 1.07025</text>
<text x="668.8" y="7.8" fill="#e4e6e6" textLength="21.2" lengthAdjust="spacingAndGlyphs" xml:space="preserve">3x1 0</text>
<text x="691.5" y="7.8" fill="#e4e6e6" textLength="27.3" lengthAdjust="spacingAndGlyphs" xml:space="preserve">BV: 934</text>
<text x="721.7" y="7.8" fill="#e4e6e6" textLength="27.7" lengthAdjust="spacingAndGlyphs" xml:space="preserve">AV: 612</text>
<text x="752.0" y="7.8" fill="#e4e6e6" textLength="20.5" lengthAdjust="spacingAndGlyphs" xml:space="preserve">DV: 0</text>
<text x="775.0" y="7.8" fill="#e4e6e6" textLength="74.3" lengthAdjust="spacingAndGlyphs" xml:space="preserve">Senkou Span A &amp; B</text>
<text x="854.7" y="7.8" fill="#e4e6e6" textLength="60.6" lengthAdjust="spacingAndGlyphs" xml:space="preserve">Span A: 1.06868</text>
<text x="920.5" y="7.8" fill="#b81212" textLength="61.5" lengthAdjust="spacingAndGlyphs" xml:space="preserve">Span B: 1.06857</text>
<text x="989.3" y="7.8" fill="#e4e6e6" textLength="81.2" lengthAdjust="spacingAndGlyphs" xml:space="preserve">(High, Low, 52, 9, 26)</text>
<text x="1075.5" y="7.8" fill="#e4e6e6" textLength="59.1" lengthAdjust="spacingAndGlyphs" xml:space="preserve">Senkou Span A</text>
<text x="1139.2" y="7.8" fill="#e4e6e6" textLength="61.0" lengthAdjust="spacingAndGlyphs" xml:space="preserve">Span A: 1.06868</text>
<text x="1207.3" y="7.8" fill="#e4e6e6" textLength="24.1" lengthAdjust="spacingAndGlyphs" xml:space="preserve">(9, 26)</text>
<text x="1236.7" y="7.8" fill="#e4e6e6" textLength="58.0" lengthAdjust="spacingAndGlyphs" xml:space="preserve">Senkou Span B</text>
<clipPath id="h1"><rect x="1290" y="0" width="17" height="12"/></clipPath>
<text x="1300.0" y="7.8" fill="#f07878" textLength="61.0" lengthAdjust="spacingAndGlyphs" clip-path="url(#h1)" xml:space="preserve">Span B: 1.06857</text>
</svg>
</body></html>
